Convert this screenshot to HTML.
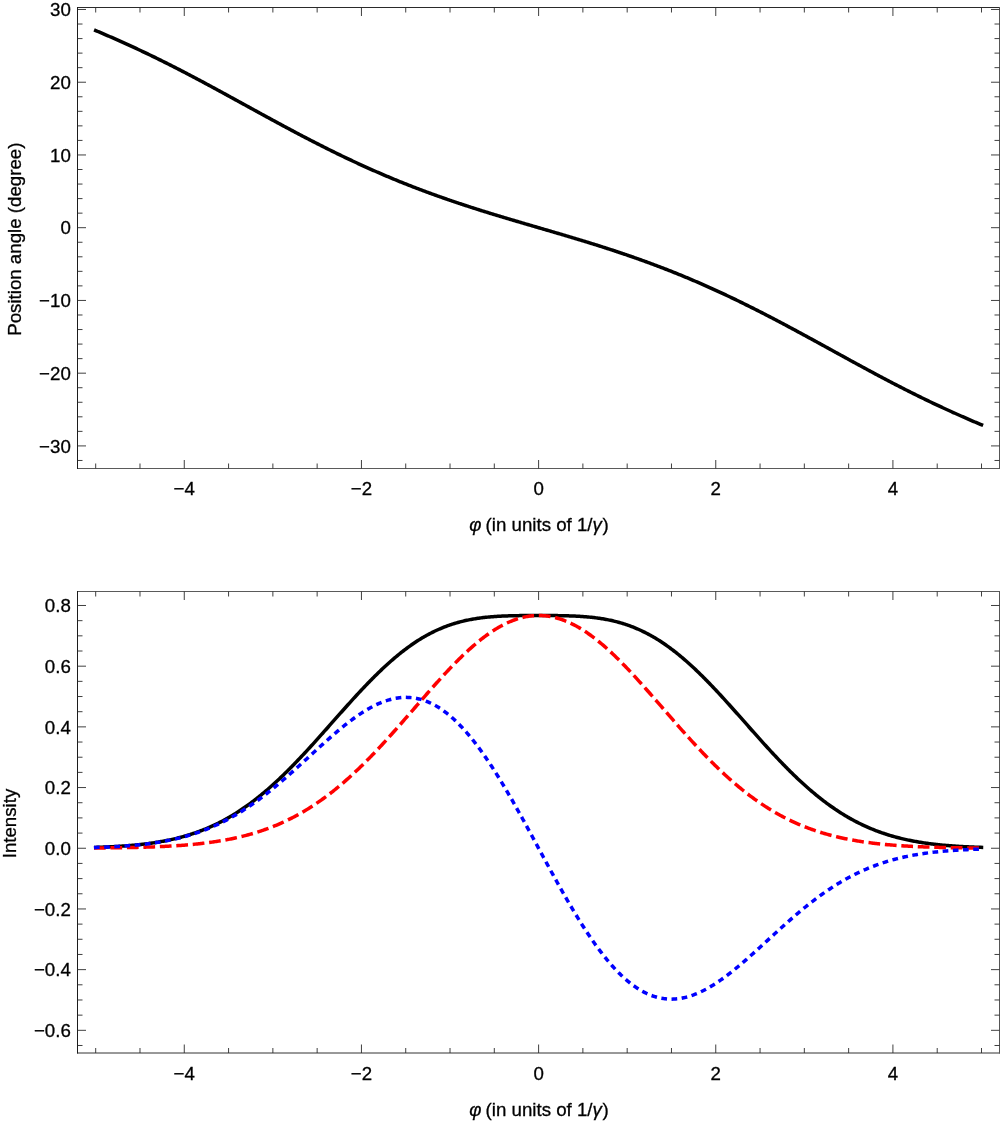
<!DOCTYPE html>
<html><head><meta charset="utf-8"><title>Polarization plots</title>
<style>
html,body{margin:0;padding:0;background:#fff;}
svg{display:block;font-family:"Liberation Sans",sans-serif;font-size:18.7px;fill:#000;}
text{stroke:#000;stroke-width:0.3px;}
</style></head><body>
<svg width="1000" height="1122" viewBox="0 0 1000 1122">
<rect width="1000" height="1122" fill="#fff"/>
<line x1="77.0" y1="7.5" x2="1000.0" y2="7.5" stroke="#2a2a2a" stroke-width="1"/>
<line x1="77.0" y1="468.5" x2="1000.0" y2="468.5" stroke="#5a5a5a" stroke-width="1"/>
<line x1="77.5" y1="7.0" x2="77.5" y2="469.0" stroke="#1c1c1c" stroke-width="1"/>
<line x1="999.5" y1="7.0" x2="999.5" y2="469.0" stroke="#555" stroke-width="1"/>
<line x1="95.70" y1="468.50" x2="95.70" y2="463.50" stroke="#2a2a2a" stroke-width="0.9"/>
<line x1="95.70" y1="7.50" x2="95.70" y2="12.50" stroke="#2a2a2a" stroke-width="0.9"/>
<line x1="139.99" y1="468.50" x2="139.99" y2="463.50" stroke="#2a2a2a" stroke-width="0.9"/>
<line x1="139.99" y1="7.50" x2="139.99" y2="12.50" stroke="#2a2a2a" stroke-width="0.9"/>
<line x1="184.28" y1="468.50" x2="184.28" y2="460.00" stroke="#2a2a2a" stroke-width="0.9"/>
<line x1="184.28" y1="7.50" x2="184.28" y2="16.00" stroke="#2a2a2a" stroke-width="0.9"/>
<text x="184.28" y="494.50" text-anchor="middle">−4</text>
<line x1="228.57" y1="468.50" x2="228.57" y2="463.50" stroke="#2a2a2a" stroke-width="0.9"/>
<line x1="228.57" y1="7.50" x2="228.57" y2="12.50" stroke="#2a2a2a" stroke-width="0.9"/>
<line x1="272.86" y1="468.50" x2="272.86" y2="463.50" stroke="#2a2a2a" stroke-width="0.9"/>
<line x1="272.86" y1="7.50" x2="272.86" y2="12.50" stroke="#2a2a2a" stroke-width="0.9"/>
<line x1="317.15" y1="468.50" x2="317.15" y2="463.50" stroke="#2a2a2a" stroke-width="0.9"/>
<line x1="317.15" y1="7.50" x2="317.15" y2="12.50" stroke="#2a2a2a" stroke-width="0.9"/>
<line x1="361.44" y1="468.50" x2="361.44" y2="460.00" stroke="#2a2a2a" stroke-width="0.9"/>
<line x1="361.44" y1="7.50" x2="361.44" y2="16.00" stroke="#2a2a2a" stroke-width="0.9"/>
<text x="361.44" y="494.50" text-anchor="middle">−2</text>
<line x1="405.73" y1="468.50" x2="405.73" y2="463.50" stroke="#2a2a2a" stroke-width="0.9"/>
<line x1="405.73" y1="7.50" x2="405.73" y2="12.50" stroke="#2a2a2a" stroke-width="0.9"/>
<line x1="450.02" y1="468.50" x2="450.02" y2="463.50" stroke="#2a2a2a" stroke-width="0.9"/>
<line x1="450.02" y1="7.50" x2="450.02" y2="12.50" stroke="#2a2a2a" stroke-width="0.9"/>
<line x1="494.31" y1="468.50" x2="494.31" y2="463.50" stroke="#2a2a2a" stroke-width="0.9"/>
<line x1="494.31" y1="7.50" x2="494.31" y2="12.50" stroke="#2a2a2a" stroke-width="0.9"/>
<line x1="538.60" y1="468.50" x2="538.60" y2="460.00" stroke="#2a2a2a" stroke-width="0.9"/>
<line x1="538.60" y1="7.50" x2="538.60" y2="16.00" stroke="#2a2a2a" stroke-width="0.9"/>
<text x="538.60" y="494.50" text-anchor="middle">0</text>
<line x1="582.89" y1="468.50" x2="582.89" y2="463.50" stroke="#2a2a2a" stroke-width="0.9"/>
<line x1="582.89" y1="7.50" x2="582.89" y2="12.50" stroke="#2a2a2a" stroke-width="0.9"/>
<line x1="627.18" y1="468.50" x2="627.18" y2="463.50" stroke="#2a2a2a" stroke-width="0.9"/>
<line x1="627.18" y1="7.50" x2="627.18" y2="12.50" stroke="#2a2a2a" stroke-width="0.9"/>
<line x1="671.47" y1="468.50" x2="671.47" y2="463.50" stroke="#2a2a2a" stroke-width="0.9"/>
<line x1="671.47" y1="7.50" x2="671.47" y2="12.50" stroke="#2a2a2a" stroke-width="0.9"/>
<line x1="715.76" y1="468.50" x2="715.76" y2="460.00" stroke="#2a2a2a" stroke-width="0.9"/>
<line x1="715.76" y1="7.50" x2="715.76" y2="16.00" stroke="#2a2a2a" stroke-width="0.9"/>
<text x="715.76" y="494.50" text-anchor="middle">2</text>
<line x1="760.05" y1="468.50" x2="760.05" y2="463.50" stroke="#2a2a2a" stroke-width="0.9"/>
<line x1="760.05" y1="7.50" x2="760.05" y2="12.50" stroke="#2a2a2a" stroke-width="0.9"/>
<line x1="804.34" y1="468.50" x2="804.34" y2="463.50" stroke="#2a2a2a" stroke-width="0.9"/>
<line x1="804.34" y1="7.50" x2="804.34" y2="12.50" stroke="#2a2a2a" stroke-width="0.9"/>
<line x1="848.63" y1="468.50" x2="848.63" y2="463.50" stroke="#2a2a2a" stroke-width="0.9"/>
<line x1="848.63" y1="7.50" x2="848.63" y2="12.50" stroke="#2a2a2a" stroke-width="0.9"/>
<line x1="892.92" y1="468.50" x2="892.92" y2="460.00" stroke="#2a2a2a" stroke-width="0.9"/>
<line x1="892.92" y1="7.50" x2="892.92" y2="16.00" stroke="#2a2a2a" stroke-width="0.9"/>
<text x="892.92" y="494.50" text-anchor="middle">4</text>
<line x1="937.21" y1="468.50" x2="937.21" y2="463.50" stroke="#2a2a2a" stroke-width="0.9"/>
<line x1="937.21" y1="7.50" x2="937.21" y2="12.50" stroke="#2a2a2a" stroke-width="0.9"/>
<line x1="981.50" y1="468.50" x2="981.50" y2="463.50" stroke="#2a2a2a" stroke-width="0.9"/>
<line x1="981.50" y1="7.50" x2="981.50" y2="12.50" stroke="#2a2a2a" stroke-width="0.9"/>
<line x1="77.50" y1="445.92" x2="86.00" y2="445.92" stroke="#2a2a2a" stroke-width="0.9"/>
<line x1="999.50" y1="445.92" x2="991.00" y2="445.92" stroke="#2a2a2a" stroke-width="0.9"/>
<line x1="77.50" y1="373.18" x2="86.00" y2="373.18" stroke="#2a2a2a" stroke-width="0.9"/>
<line x1="999.50" y1="373.18" x2="991.00" y2="373.18" stroke="#2a2a2a" stroke-width="0.9"/>
<line x1="77.50" y1="300.44" x2="86.00" y2="300.44" stroke="#2a2a2a" stroke-width="0.9"/>
<line x1="999.50" y1="300.44" x2="991.00" y2="300.44" stroke="#2a2a2a" stroke-width="0.9"/>
<line x1="77.50" y1="227.70" x2="86.00" y2="227.70" stroke="#2a2a2a" stroke-width="0.9"/>
<line x1="999.50" y1="227.70" x2="991.00" y2="227.70" stroke="#2a2a2a" stroke-width="0.9"/>
<line x1="77.50" y1="154.96" x2="86.00" y2="154.96" stroke="#2a2a2a" stroke-width="0.9"/>
<line x1="999.50" y1="154.96" x2="991.00" y2="154.96" stroke="#2a2a2a" stroke-width="0.9"/>
<line x1="77.50" y1="82.22" x2="86.00" y2="82.22" stroke="#2a2a2a" stroke-width="0.9"/>
<line x1="999.50" y1="82.22" x2="991.00" y2="82.22" stroke="#2a2a2a" stroke-width="0.9"/>
<line x1="77.50" y1="9.48" x2="86.00" y2="9.48" stroke="#2a2a2a" stroke-width="0.9"/>
<line x1="999.50" y1="9.48" x2="991.00" y2="9.48" stroke="#2a2a2a" stroke-width="0.9"/>
<line x1="77.50" y1="460.47" x2="82.50" y2="460.47" stroke="#2a2a2a" stroke-width="0.9"/>
<line x1="999.50" y1="460.47" x2="994.50" y2="460.47" stroke="#2a2a2a" stroke-width="0.9"/>
<line x1="77.50" y1="431.37" x2="82.50" y2="431.37" stroke="#2a2a2a" stroke-width="0.9"/>
<line x1="999.50" y1="431.37" x2="994.50" y2="431.37" stroke="#2a2a2a" stroke-width="0.9"/>
<line x1="77.50" y1="416.82" x2="82.50" y2="416.82" stroke="#2a2a2a" stroke-width="0.9"/>
<line x1="999.50" y1="416.82" x2="994.50" y2="416.82" stroke="#2a2a2a" stroke-width="0.9"/>
<line x1="77.50" y1="402.28" x2="82.50" y2="402.28" stroke="#2a2a2a" stroke-width="0.9"/>
<line x1="999.50" y1="402.28" x2="994.50" y2="402.28" stroke="#2a2a2a" stroke-width="0.9"/>
<line x1="77.50" y1="387.73" x2="82.50" y2="387.73" stroke="#2a2a2a" stroke-width="0.9"/>
<line x1="999.50" y1="387.73" x2="994.50" y2="387.73" stroke="#2a2a2a" stroke-width="0.9"/>
<line x1="77.50" y1="358.63" x2="82.50" y2="358.63" stroke="#2a2a2a" stroke-width="0.9"/>
<line x1="999.50" y1="358.63" x2="994.50" y2="358.63" stroke="#2a2a2a" stroke-width="0.9"/>
<line x1="77.50" y1="344.08" x2="82.50" y2="344.08" stroke="#2a2a2a" stroke-width="0.9"/>
<line x1="999.50" y1="344.08" x2="994.50" y2="344.08" stroke="#2a2a2a" stroke-width="0.9"/>
<line x1="77.50" y1="329.54" x2="82.50" y2="329.54" stroke="#2a2a2a" stroke-width="0.9"/>
<line x1="999.50" y1="329.54" x2="994.50" y2="329.54" stroke="#2a2a2a" stroke-width="0.9"/>
<line x1="77.50" y1="314.99" x2="82.50" y2="314.99" stroke="#2a2a2a" stroke-width="0.9"/>
<line x1="999.50" y1="314.99" x2="994.50" y2="314.99" stroke="#2a2a2a" stroke-width="0.9"/>
<line x1="77.50" y1="285.89" x2="82.50" y2="285.89" stroke="#2a2a2a" stroke-width="0.9"/>
<line x1="999.50" y1="285.89" x2="994.50" y2="285.89" stroke="#2a2a2a" stroke-width="0.9"/>
<line x1="77.50" y1="271.34" x2="82.50" y2="271.34" stroke="#2a2a2a" stroke-width="0.9"/>
<line x1="999.50" y1="271.34" x2="994.50" y2="271.34" stroke="#2a2a2a" stroke-width="0.9"/>
<line x1="77.50" y1="256.80" x2="82.50" y2="256.80" stroke="#2a2a2a" stroke-width="0.9"/>
<line x1="999.50" y1="256.80" x2="994.50" y2="256.80" stroke="#2a2a2a" stroke-width="0.9"/>
<line x1="77.50" y1="242.25" x2="82.50" y2="242.25" stroke="#2a2a2a" stroke-width="0.9"/>
<line x1="999.50" y1="242.25" x2="994.50" y2="242.25" stroke="#2a2a2a" stroke-width="0.9"/>
<line x1="77.50" y1="213.15" x2="82.50" y2="213.15" stroke="#2a2a2a" stroke-width="0.9"/>
<line x1="999.50" y1="213.15" x2="994.50" y2="213.15" stroke="#2a2a2a" stroke-width="0.9"/>
<line x1="77.50" y1="198.60" x2="82.50" y2="198.60" stroke="#2a2a2a" stroke-width="0.9"/>
<line x1="999.50" y1="198.60" x2="994.50" y2="198.60" stroke="#2a2a2a" stroke-width="0.9"/>
<line x1="77.50" y1="184.06" x2="82.50" y2="184.06" stroke="#2a2a2a" stroke-width="0.9"/>
<line x1="999.50" y1="184.06" x2="994.50" y2="184.06" stroke="#2a2a2a" stroke-width="0.9"/>
<line x1="77.50" y1="169.51" x2="82.50" y2="169.51" stroke="#2a2a2a" stroke-width="0.9"/>
<line x1="999.50" y1="169.51" x2="994.50" y2="169.51" stroke="#2a2a2a" stroke-width="0.9"/>
<line x1="77.50" y1="140.41" x2="82.50" y2="140.41" stroke="#2a2a2a" stroke-width="0.9"/>
<line x1="999.50" y1="140.41" x2="994.50" y2="140.41" stroke="#2a2a2a" stroke-width="0.9"/>
<line x1="77.50" y1="125.86" x2="82.50" y2="125.86" stroke="#2a2a2a" stroke-width="0.9"/>
<line x1="999.50" y1="125.86" x2="994.50" y2="125.86" stroke="#2a2a2a" stroke-width="0.9"/>
<line x1="77.50" y1="111.32" x2="82.50" y2="111.32" stroke="#2a2a2a" stroke-width="0.9"/>
<line x1="999.50" y1="111.32" x2="994.50" y2="111.32" stroke="#2a2a2a" stroke-width="0.9"/>
<line x1="77.50" y1="96.77" x2="82.50" y2="96.77" stroke="#2a2a2a" stroke-width="0.9"/>
<line x1="999.50" y1="96.77" x2="994.50" y2="96.77" stroke="#2a2a2a" stroke-width="0.9"/>
<line x1="77.50" y1="67.67" x2="82.50" y2="67.67" stroke="#2a2a2a" stroke-width="0.9"/>
<line x1="999.50" y1="67.67" x2="994.50" y2="67.67" stroke="#2a2a2a" stroke-width="0.9"/>
<line x1="77.50" y1="53.12" x2="82.50" y2="53.12" stroke="#2a2a2a" stroke-width="0.9"/>
<line x1="999.50" y1="53.12" x2="994.50" y2="53.12" stroke="#2a2a2a" stroke-width="0.9"/>
<line x1="77.50" y1="38.58" x2="82.50" y2="38.58" stroke="#2a2a2a" stroke-width="0.9"/>
<line x1="999.50" y1="38.58" x2="994.50" y2="38.58" stroke="#2a2a2a" stroke-width="0.9"/>
<line x1="77.50" y1="24.03" x2="82.50" y2="24.03" stroke="#2a2a2a" stroke-width="0.9"/>
<line x1="999.50" y1="24.03" x2="994.50" y2="24.03" stroke="#2a2a2a" stroke-width="0.9"/>
<text x="70.8" y="452.62" text-anchor="end">−30</text>
<text x="70.8" y="379.88" text-anchor="end">−20</text>
<text x="70.8" y="307.14" text-anchor="end">−10</text>
<text x="70.8" y="234.40" text-anchor="end">0</text>
<text x="70.8" y="161.66" text-anchor="end">10</text>
<text x="70.8" y="88.92" text-anchor="end">20</text>
<text x="70.8" y="16.18" text-anchor="end">30</text>
<path d="M95.70,30.58 L96.81,31.04 L97.91,31.51 L99.02,31.98 L100.13,32.45 L101.24,32.93 L102.34,33.40 L103.45,33.87 L104.56,34.35 L105.67,34.83 L106.77,35.30 L107.88,35.78 L108.99,36.26 L110.09,36.75 L111.20,37.23 L112.31,37.71 L113.42,38.20 L114.52,38.68 L115.63,39.17 L116.74,39.66 L117.85,40.15 L118.95,40.64 L120.06,41.14 L121.17,41.63 L122.27,42.13 L123.38,42.62 L124.49,43.12 L125.60,43.62 L126.70,44.12 L127.81,44.63 L128.92,45.13 L130.02,45.64 L131.13,46.14 L132.24,46.65 L133.35,47.16 L134.45,47.68 L135.56,48.19 L136.67,48.70 L137.78,49.22 L138.88,49.74 L139.99,50.26 L141.10,50.78 L142.20,51.30 L143.31,51.83 L144.42,52.35 L145.53,52.88 L146.63,53.41 L147.74,53.94 L148.85,54.47 L149.96,55.00 L151.06,55.54 L152.17,56.07 L153.28,56.61 L154.38,57.15 L155.49,57.69 L156.60,58.23 L157.71,58.77 L158.81,59.32 L159.92,59.86 L161.03,60.41 L162.14,60.96 L163.24,61.51 L164.35,62.06 L165.46,62.62 L166.56,63.17 L167.67,63.73 L168.78,64.28 L169.89,64.84 L170.99,65.40 L172.10,65.96 L173.21,66.53 L174.31,67.09 L175.42,67.65 L176.53,68.22 L177.64,68.79 L178.74,69.36 L179.85,69.93 L180.96,70.50 L182.07,71.07 L183.17,71.65 L184.28,72.22 L185.39,72.80 L186.49,73.37 L187.60,73.95 L188.71,74.53 L189.82,75.11 L190.92,75.69 L192.03,76.28 L193.14,76.86 L194.25,77.44 L195.35,78.03 L196.46,78.62 L197.57,79.20 L198.67,79.79 L199.78,80.38 L200.89,80.97 L202.00,81.56 L203.10,82.15 L204.21,82.75 L205.32,83.34 L206.43,83.93 L207.53,84.53 L208.64,85.13 L209.75,85.72 L210.85,86.32 L211.96,86.92 L213.07,87.52 L214.18,88.12 L215.28,88.71 L216.39,89.32 L217.50,89.92 L218.60,90.52 L219.71,91.12 L220.82,91.72 L221.93,92.33 L223.03,92.93 L224.14,93.53 L225.25,94.14 L226.36,94.74 L227.46,95.35 L228.57,95.95 L229.68,96.56 L230.78,97.17 L231.89,97.77 L233.00,98.38 L234.11,98.99 L235.21,99.59 L236.32,100.20 L237.43,100.81 L238.54,101.42 L239.64,102.02 L240.75,102.63 L241.86,103.24 L242.96,103.85 L244.07,104.46 L245.18,105.06 L246.29,105.67 L247.39,106.28 L248.50,106.89 L249.61,107.50 L250.72,108.11 L251.82,108.71 L252.93,109.32 L254.04,109.93 L255.14,110.54 L256.25,111.14 L257.36,111.75 L258.47,112.36 L259.57,112.96 L260.68,113.57 L261.79,114.17 L262.89,114.78 L264.00,115.39 L265.11,115.99 L266.22,116.59 L267.32,117.20 L268.43,117.80 L269.54,118.40 L270.65,119.01 L271.75,119.61 L272.86,120.21 L273.97,120.81 L275.07,121.41 L276.18,122.01 L277.29,122.61 L278.40,123.21 L279.50,123.81 L280.61,124.40 L281.72,125.00 L282.83,125.60 L283.93,126.19 L285.04,126.79 L286.15,127.38 L287.25,127.97 L288.36,128.56 L289.47,129.16 L290.58,129.75 L291.68,130.34 L292.79,130.92 L293.90,131.51 L295.00,132.10 L296.11,132.68 L297.22,133.27 L298.33,133.85 L299.43,134.44 L300.54,135.02 L301.65,135.60 L302.76,136.18 L303.86,136.76 L304.97,137.34 L306.08,137.91 L307.18,138.49 L308.29,139.06 L309.40,139.64 L310.51,140.21 L311.61,140.78 L312.72,141.35 L313.83,141.92 L314.94,142.48 L316.04,143.05 L317.15,143.62 L318.26,144.18 L319.36,144.74 L320.47,145.30 L321.58,145.86 L322.69,146.42 L323.79,146.98 L324.90,147.54 L326.01,148.09 L327.12,148.64 L328.22,149.20 L329.33,149.75 L330.44,150.30 L331.54,150.84 L332.65,151.39 L333.76,151.93 L334.87,152.48 L335.97,153.02 L337.08,153.56 L338.19,154.10 L339.30,154.64 L340.40,155.17 L341.51,155.71 L342.62,156.24 L343.72,156.77 L344.83,157.30 L345.94,157.83 L347.05,158.36 L348.15,158.89 L349.26,159.41 L350.37,159.93 L351.47,160.45 L352.58,160.97 L353.69,161.49 L354.80,162.01 L355.90,162.52 L357.01,163.03 L358.12,163.55 L359.23,164.06 L360.33,164.56 L361.44,165.07 L362.55,165.58 L363.65,166.08 L364.76,166.58 L365.87,167.08 L366.98,167.58 L368.08,168.08 L369.19,168.57 L370.30,169.06 L371.41,169.56 L372.51,170.05 L373.62,170.53 L374.73,171.02 L375.83,171.51 L376.94,171.99 L378.05,172.47 L379.16,172.95 L380.26,173.43 L381.37,173.91 L382.48,174.38 L383.59,174.86 L384.69,175.33 L385.80,175.80 L386.91,176.27 L388.01,176.73 L389.12,177.20 L390.23,177.66 L391.34,178.12 L392.44,178.58 L393.55,179.04 L394.66,179.50 L395.76,179.95 L396.87,180.41 L397.98,180.86 L399.09,181.31 L400.19,181.76 L401.30,182.20 L402.41,182.65 L403.52,183.09 L404.62,183.53 L405.73,183.97 L406.84,184.41 L407.94,184.85 L409.05,185.28 L410.16,185.72 L411.27,186.15 L412.37,186.58 L413.48,187.01 L414.59,187.44 L415.70,187.86 L416.80,188.28 L417.91,188.71 L419.02,189.13 L420.12,189.55 L421.23,189.97 L422.34,190.38 L423.45,190.80 L424.55,191.21 L425.66,191.62 L426.77,192.03 L427.88,192.44 L428.98,192.85 L430.09,193.25 L431.20,193.65 L432.30,194.06 L433.41,194.46 L434.52,194.86 L435.63,195.26 L436.73,195.65 L437.84,196.05 L438.95,196.44 L440.05,196.83 L441.16,197.22 L442.27,197.61 L443.38,198.00 L444.48,198.39 L445.59,198.77 L446.70,199.16 L447.81,199.54 L448.91,199.92 L450.02,200.30 L451.13,200.68 L452.23,201.06 L453.34,201.43 L454.45,201.81 L455.56,202.18 L456.66,202.55 L457.77,202.93 L458.88,203.30 L459.99,203.66 L461.09,204.03 L462.20,204.40 L463.31,204.76 L464.41,205.13 L465.52,205.49 L466.63,205.85 L467.74,206.21 L468.84,206.57 L469.95,206.93 L471.06,207.29 L472.17,207.64 L473.27,208.00 L474.38,208.35 L475.49,208.71 L476.59,209.06 L477.70,209.41 L478.81,209.76 L479.92,210.11 L481.02,210.46 L482.13,210.80 L483.24,211.15 L484.34,211.50 L485.45,211.84 L486.56,212.19 L487.67,212.53 L488.77,212.87 L489.88,213.21 L490.99,213.55 L492.10,213.89 L493.20,214.23 L494.31,214.57 L495.42,214.91 L496.52,215.25 L497.63,215.58 L498.74,215.92 L499.85,216.25 L500.95,216.59 L502.06,216.92 L503.17,217.25 L504.28,217.59 L505.38,217.92 L506.49,218.25 L507.60,218.58 L508.70,218.91 L509.81,219.24 L510.92,219.57 L512.03,219.90 L513.13,220.23 L514.24,220.55 L515.35,220.88 L516.46,221.21 L517.56,221.54 L518.67,221.86 L519.78,222.19 L520.88,222.51 L521.99,222.84 L523.10,223.17 L524.21,223.49 L525.31,223.81 L526.42,224.14 L527.53,224.46 L528.63,224.79 L529.74,225.11 L530.85,225.44 L531.96,225.76 L533.06,226.08 L534.17,226.41 L535.28,226.73 L536.39,227.05 L537.49,227.38 L538.60,227.70 L539.71,228.02 L540.81,228.35 L541.92,228.67 L543.03,228.99 L544.14,229.32 L545.24,229.64 L546.35,229.96 L547.46,230.29 L548.57,230.61 L549.67,230.94 L550.78,231.26 L551.89,231.59 L552.99,231.91 L554.10,232.23 L555.21,232.56 L556.32,232.89 L557.42,233.21 L558.53,233.54 L559.64,233.86 L560.75,234.19 L561.85,234.52 L562.96,234.85 L564.07,235.17 L565.17,235.50 L566.28,235.83 L567.39,236.16 L568.50,236.49 L569.60,236.82 L570.71,237.15 L571.82,237.48 L572.92,237.81 L574.03,238.15 L575.14,238.48 L576.25,238.81 L577.35,239.15 L578.46,239.48 L579.57,239.82 L580.68,240.15 L581.78,240.49 L582.89,240.83 L584.00,241.17 L585.10,241.51 L586.21,241.85 L587.32,242.19 L588.43,242.53 L589.53,242.87 L590.64,243.21 L591.75,243.56 L592.86,243.90 L593.96,244.25 L595.07,244.60 L596.18,244.94 L597.28,245.29 L598.39,245.64 L599.50,245.99 L600.61,246.34 L601.71,246.69 L602.82,247.05 L603.93,247.40 L605.04,247.76 L606.14,248.11 L607.25,248.47 L608.36,248.83 L609.46,249.19 L610.57,249.55 L611.68,249.91 L612.79,250.27 L613.89,250.64 L615.00,251.00 L616.11,251.37 L617.21,251.74 L618.32,252.10 L619.43,252.47 L620.54,252.85 L621.64,253.22 L622.75,253.59 L623.86,253.97 L624.97,254.34 L626.07,254.72 L627.18,255.10 L628.29,255.48 L629.39,255.86 L630.50,256.24 L631.61,256.63 L632.72,257.01 L633.82,257.40 L634.93,257.79 L636.04,258.18 L637.15,258.57 L638.25,258.96 L639.36,259.35 L640.47,259.75 L641.57,260.14 L642.68,260.54 L643.79,260.94 L644.90,261.34 L646.00,261.75 L647.11,262.15 L648.22,262.55 L649.33,262.96 L650.43,263.37 L651.54,263.78 L652.65,264.19 L653.75,264.60 L654.86,265.02 L655.97,265.43 L657.08,265.85 L658.18,266.27 L659.29,266.69 L660.40,267.12 L661.50,267.54 L662.61,267.96 L663.72,268.39 L664.83,268.82 L665.93,269.25 L667.04,269.68 L668.15,270.12 L669.26,270.55 L670.36,270.99 L671.47,271.43 L672.58,271.87 L673.68,272.31 L674.79,272.75 L675.90,273.20 L677.01,273.64 L678.11,274.09 L679.22,274.54 L680.33,274.99 L681.44,275.45 L682.54,275.90 L683.65,276.36 L684.76,276.82 L685.86,277.28 L686.97,277.74 L688.08,278.20 L689.19,278.67 L690.29,279.13 L691.40,279.60 L692.51,280.07 L693.62,280.54 L694.72,281.02 L695.83,281.49 L696.94,281.97 L698.04,282.45 L699.15,282.93 L700.26,283.41 L701.37,283.89 L702.47,284.38 L703.58,284.87 L704.69,285.35 L705.79,285.84 L706.90,286.34 L708.01,286.83 L709.12,287.32 L710.22,287.82 L711.33,288.32 L712.44,288.82 L713.55,289.32 L714.65,289.82 L715.76,290.33 L716.87,290.84 L717.97,291.34 L719.08,291.85 L720.19,292.37 L721.30,292.88 L722.40,293.39 L723.51,293.91 L724.62,294.43 L725.73,294.95 L726.83,295.47 L727.94,295.99 L729.05,296.51 L730.15,297.04 L731.26,297.57 L732.37,298.10 L733.48,298.63 L734.58,299.16 L735.69,299.69 L736.80,300.23 L737.90,300.76 L739.01,301.30 L740.12,301.84 L741.23,302.38 L742.33,302.92 L743.44,303.47 L744.55,304.01 L745.66,304.56 L746.76,305.10 L747.87,305.65 L748.98,306.20 L750.08,306.76 L751.19,307.31 L752.30,307.86 L753.41,308.42 L754.51,308.98 L755.62,309.54 L756.73,310.10 L757.84,310.66 L758.94,311.22 L760.05,311.78 L761.16,312.35 L762.26,312.92 L763.37,313.48 L764.48,314.05 L765.59,314.62 L766.69,315.19 L767.80,315.76 L768.91,316.34 L770.02,316.91 L771.12,317.49 L772.23,318.06 L773.34,318.64 L774.44,319.22 L775.55,319.80 L776.66,320.38 L777.77,320.96 L778.87,321.55 L779.98,322.13 L781.09,322.72 L782.20,323.30 L783.30,323.89 L784.41,324.48 L785.52,325.06 L786.62,325.65 L787.73,326.24 L788.84,326.84 L789.95,327.43 L791.05,328.02 L792.16,328.61 L793.27,329.21 L794.37,329.80 L795.48,330.40 L796.59,331.00 L797.70,331.59 L798.80,332.19 L799.91,332.79 L801.02,333.39 L802.13,333.99 L803.23,334.59 L804.34,335.19 L805.45,335.79 L806.55,336.39 L807.66,337.00 L808.77,337.60 L809.88,338.20 L810.98,338.81 L812.09,339.41 L813.20,340.01 L814.31,340.62 L815.41,341.23 L816.52,341.83 L817.63,342.44 L818.73,343.04 L819.84,343.65 L820.95,344.26 L822.06,344.86 L823.16,345.47 L824.27,346.08 L825.38,346.69 L826.49,347.29 L827.59,347.90 L828.70,348.51 L829.81,349.12 L830.91,349.73 L832.02,350.34 L833.13,350.94 L834.24,351.55 L835.34,352.16 L836.45,352.77 L837.56,353.38 L838.66,353.98 L839.77,354.59 L840.88,355.20 L841.99,355.81 L843.09,356.41 L844.20,357.02 L845.31,357.63 L846.42,358.23 L847.52,358.84 L848.63,359.45 L849.74,360.05 L850.84,360.66 L851.95,361.26 L853.06,361.87 L854.17,362.47 L855.27,363.07 L856.38,363.68 L857.49,364.28 L858.60,364.88 L859.70,365.48 L860.81,366.08 L861.92,366.69 L863.02,367.28 L864.13,367.88 L865.24,368.48 L866.35,369.08 L867.45,369.68 L868.56,370.27 L869.67,370.87 L870.78,371.47 L871.88,372.06 L872.99,372.65 L874.10,373.25 L875.20,373.84 L876.31,374.43 L877.42,375.02 L878.53,375.61 L879.63,376.20 L880.74,376.78 L881.85,377.37 L882.95,377.96 L884.06,378.54 L885.17,379.12 L886.28,379.71 L887.38,380.29 L888.49,380.87 L889.60,381.45 L890.71,382.03 L891.81,382.60 L892.92,383.18 L894.03,383.75 L895.13,384.33 L896.24,384.90 L897.35,385.47 L898.46,386.04 L899.56,386.61 L900.67,387.18 L901.78,387.75 L902.89,388.31 L903.99,388.87 L905.10,389.44 L906.21,390.00 L907.31,390.56 L908.42,391.12 L909.53,391.67 L910.64,392.23 L911.74,392.78 L912.85,393.34 L913.96,393.89 L915.07,394.44 L916.17,394.99 L917.28,395.54 L918.39,396.08 L919.49,396.63 L920.60,397.17 L921.71,397.71 L922.82,398.25 L923.92,398.79 L925.03,399.33 L926.14,399.86 L927.24,400.40 L928.35,400.93 L929.46,401.46 L930.57,401.99 L931.67,402.52 L932.78,403.05 L933.89,403.57 L935.00,404.10 L936.10,404.62 L937.21,405.14 L938.32,405.66 L939.42,406.18 L940.53,406.70 L941.64,407.21 L942.75,407.72 L943.85,408.24 L944.96,408.75 L946.07,409.26 L947.18,409.76 L948.28,410.27 L949.39,410.77 L950.50,411.28 L951.60,411.78 L952.71,412.28 L953.82,412.78 L954.93,413.27 L956.03,413.77 L957.14,414.26 L958.25,414.76 L959.36,415.25 L960.46,415.74 L961.57,416.23 L962.68,416.72 L963.78,417.20 L964.89,417.69 L966.00,418.17 L967.11,418.65 L968.21,419.14 L969.32,419.62 L970.43,420.10 L971.53,420.57 L972.64,421.05 L973.75,421.53 L974.86,422.00 L975.96,422.47 L977.07,422.95 L978.18,423.42 L979.29,423.89 L980.39,424.36 L981.50,424.82" fill="none" stroke="#000" stroke-width="3.5" stroke-linecap="square" stroke-linejoin="round"/>
<text transform="translate(20.5,239.2) rotate(-90)" text-anchor="middle">Position angle (degree)</text>
<text x="539.00" y="531.0" text-anchor="middle"><tspan font-style="italic">φ</tspan><tspan dx="-1.2"> (in units of 1/</tspan><tspan font-style="italic">γ</tspan><tspan dx="0.5">)</tspan></text>
<line x1="77.0" y1="591.5" x2="1000.0" y2="591.5" stroke="#5a5a5a" stroke-width="1"/>
<line x1="77.0" y1="1053.0" x2="1000.0" y2="1053.0" stroke="#333" stroke-width="1"/>
<line x1="77.5" y1="591.0" x2="77.5" y2="1053.5" stroke="#1c1c1c" stroke-width="1"/>
<line x1="999.5" y1="591.0" x2="999.5" y2="1053.5" stroke="#555" stroke-width="1"/>
<line x1="95.70" y1="1053.00" x2="95.70" y2="1048.00" stroke="#2a2a2a" stroke-width="0.9"/>
<line x1="95.70" y1="591.50" x2="95.70" y2="596.50" stroke="#2a2a2a" stroke-width="0.9"/>
<line x1="139.99" y1="1053.00" x2="139.99" y2="1048.00" stroke="#2a2a2a" stroke-width="0.9"/>
<line x1="139.99" y1="591.50" x2="139.99" y2="596.50" stroke="#2a2a2a" stroke-width="0.9"/>
<line x1="184.28" y1="1053.00" x2="184.28" y2="1044.50" stroke="#2a2a2a" stroke-width="0.9"/>
<line x1="184.28" y1="591.50" x2="184.28" y2="600.00" stroke="#2a2a2a" stroke-width="0.9"/>
<text x="184.28" y="1079.50" text-anchor="middle">−4</text>
<line x1="228.57" y1="1053.00" x2="228.57" y2="1048.00" stroke="#2a2a2a" stroke-width="0.9"/>
<line x1="228.57" y1="591.50" x2="228.57" y2="596.50" stroke="#2a2a2a" stroke-width="0.9"/>
<line x1="272.86" y1="1053.00" x2="272.86" y2="1048.00" stroke="#2a2a2a" stroke-width="0.9"/>
<line x1="272.86" y1="591.50" x2="272.86" y2="596.50" stroke="#2a2a2a" stroke-width="0.9"/>
<line x1="317.15" y1="1053.00" x2="317.15" y2="1048.00" stroke="#2a2a2a" stroke-width="0.9"/>
<line x1="317.15" y1="591.50" x2="317.15" y2="596.50" stroke="#2a2a2a" stroke-width="0.9"/>
<line x1="361.44" y1="1053.00" x2="361.44" y2="1044.50" stroke="#2a2a2a" stroke-width="0.9"/>
<line x1="361.44" y1="591.50" x2="361.44" y2="600.00" stroke="#2a2a2a" stroke-width="0.9"/>
<text x="361.44" y="1079.50" text-anchor="middle">−2</text>
<line x1="405.73" y1="1053.00" x2="405.73" y2="1048.00" stroke="#2a2a2a" stroke-width="0.9"/>
<line x1="405.73" y1="591.50" x2="405.73" y2="596.50" stroke="#2a2a2a" stroke-width="0.9"/>
<line x1="450.02" y1="1053.00" x2="450.02" y2="1048.00" stroke="#2a2a2a" stroke-width="0.9"/>
<line x1="450.02" y1="591.50" x2="450.02" y2="596.50" stroke="#2a2a2a" stroke-width="0.9"/>
<line x1="494.31" y1="1053.00" x2="494.31" y2="1048.00" stroke="#2a2a2a" stroke-width="0.9"/>
<line x1="494.31" y1="591.50" x2="494.31" y2="596.50" stroke="#2a2a2a" stroke-width="0.9"/>
<line x1="538.60" y1="1053.00" x2="538.60" y2="1044.50" stroke="#2a2a2a" stroke-width="0.9"/>
<line x1="538.60" y1="591.50" x2="538.60" y2="600.00" stroke="#2a2a2a" stroke-width="0.9"/>
<text x="538.60" y="1079.50" text-anchor="middle">0</text>
<line x1="582.89" y1="1053.00" x2="582.89" y2="1048.00" stroke="#2a2a2a" stroke-width="0.9"/>
<line x1="582.89" y1="591.50" x2="582.89" y2="596.50" stroke="#2a2a2a" stroke-width="0.9"/>
<line x1="627.18" y1="1053.00" x2="627.18" y2="1048.00" stroke="#2a2a2a" stroke-width="0.9"/>
<line x1="627.18" y1="591.50" x2="627.18" y2="596.50" stroke="#2a2a2a" stroke-width="0.9"/>
<line x1="671.47" y1="1053.00" x2="671.47" y2="1048.00" stroke="#2a2a2a" stroke-width="0.9"/>
<line x1="671.47" y1="591.50" x2="671.47" y2="596.50" stroke="#2a2a2a" stroke-width="0.9"/>
<line x1="715.76" y1="1053.00" x2="715.76" y2="1044.50" stroke="#2a2a2a" stroke-width="0.9"/>
<line x1="715.76" y1="591.50" x2="715.76" y2="600.00" stroke="#2a2a2a" stroke-width="0.9"/>
<text x="715.76" y="1079.50" text-anchor="middle">2</text>
<line x1="760.05" y1="1053.00" x2="760.05" y2="1048.00" stroke="#2a2a2a" stroke-width="0.9"/>
<line x1="760.05" y1="591.50" x2="760.05" y2="596.50" stroke="#2a2a2a" stroke-width="0.9"/>
<line x1="804.34" y1="1053.00" x2="804.34" y2="1048.00" stroke="#2a2a2a" stroke-width="0.9"/>
<line x1="804.34" y1="591.50" x2="804.34" y2="596.50" stroke="#2a2a2a" stroke-width="0.9"/>
<line x1="848.63" y1="1053.00" x2="848.63" y2="1048.00" stroke="#2a2a2a" stroke-width="0.9"/>
<line x1="848.63" y1="591.50" x2="848.63" y2="596.50" stroke="#2a2a2a" stroke-width="0.9"/>
<line x1="892.92" y1="1053.00" x2="892.92" y2="1044.50" stroke="#2a2a2a" stroke-width="0.9"/>
<line x1="892.92" y1="591.50" x2="892.92" y2="600.00" stroke="#2a2a2a" stroke-width="0.9"/>
<text x="892.92" y="1079.50" text-anchor="middle">4</text>
<line x1="937.21" y1="1053.00" x2="937.21" y2="1048.00" stroke="#2a2a2a" stroke-width="0.9"/>
<line x1="937.21" y1="591.50" x2="937.21" y2="596.50" stroke="#2a2a2a" stroke-width="0.9"/>
<line x1="981.50" y1="1053.00" x2="981.50" y2="1048.00" stroke="#2a2a2a" stroke-width="0.9"/>
<line x1="981.50" y1="591.50" x2="981.50" y2="596.50" stroke="#2a2a2a" stroke-width="0.9"/>
<line x1="77.50" y1="1030.32" x2="86.00" y2="1030.32" stroke="#2a2a2a" stroke-width="0.9"/>
<line x1="999.50" y1="1030.32" x2="991.00" y2="1030.32" stroke="#2a2a2a" stroke-width="0.9"/>
<line x1="77.50" y1="969.63" x2="86.00" y2="969.63" stroke="#2a2a2a" stroke-width="0.9"/>
<line x1="999.50" y1="969.63" x2="991.00" y2="969.63" stroke="#2a2a2a" stroke-width="0.9"/>
<line x1="77.50" y1="908.94" x2="86.00" y2="908.94" stroke="#2a2a2a" stroke-width="0.9"/>
<line x1="999.50" y1="908.94" x2="991.00" y2="908.94" stroke="#2a2a2a" stroke-width="0.9"/>
<line x1="77.50" y1="848.25" x2="86.00" y2="848.25" stroke="#2a2a2a" stroke-width="0.9"/>
<line x1="999.50" y1="848.25" x2="991.00" y2="848.25" stroke="#2a2a2a" stroke-width="0.9"/>
<line x1="77.50" y1="787.56" x2="86.00" y2="787.56" stroke="#2a2a2a" stroke-width="0.9"/>
<line x1="999.50" y1="787.56" x2="991.00" y2="787.56" stroke="#2a2a2a" stroke-width="0.9"/>
<line x1="77.50" y1="726.87" x2="86.00" y2="726.87" stroke="#2a2a2a" stroke-width="0.9"/>
<line x1="999.50" y1="726.87" x2="991.00" y2="726.87" stroke="#2a2a2a" stroke-width="0.9"/>
<line x1="77.50" y1="666.18" x2="86.00" y2="666.18" stroke="#2a2a2a" stroke-width="0.9"/>
<line x1="999.50" y1="666.18" x2="991.00" y2="666.18" stroke="#2a2a2a" stroke-width="0.9"/>
<line x1="77.50" y1="605.49" x2="86.00" y2="605.49" stroke="#2a2a2a" stroke-width="0.9"/>
<line x1="999.50" y1="605.49" x2="991.00" y2="605.49" stroke="#2a2a2a" stroke-width="0.9"/>
<line x1="77.50" y1="1045.49" x2="82.50" y2="1045.49" stroke="#2a2a2a" stroke-width="0.9"/>
<line x1="999.50" y1="1045.49" x2="994.50" y2="1045.49" stroke="#2a2a2a" stroke-width="0.9"/>
<line x1="77.50" y1="1015.15" x2="82.50" y2="1015.15" stroke="#2a2a2a" stroke-width="0.9"/>
<line x1="999.50" y1="1015.15" x2="994.50" y2="1015.15" stroke="#2a2a2a" stroke-width="0.9"/>
<line x1="77.50" y1="999.98" x2="82.50" y2="999.98" stroke="#2a2a2a" stroke-width="0.9"/>
<line x1="999.50" y1="999.98" x2="994.50" y2="999.98" stroke="#2a2a2a" stroke-width="0.9"/>
<line x1="77.50" y1="984.80" x2="82.50" y2="984.80" stroke="#2a2a2a" stroke-width="0.9"/>
<line x1="999.50" y1="984.80" x2="994.50" y2="984.80" stroke="#2a2a2a" stroke-width="0.9"/>
<line x1="77.50" y1="954.46" x2="82.50" y2="954.46" stroke="#2a2a2a" stroke-width="0.9"/>
<line x1="999.50" y1="954.46" x2="994.50" y2="954.46" stroke="#2a2a2a" stroke-width="0.9"/>
<line x1="77.50" y1="939.28" x2="82.50" y2="939.28" stroke="#2a2a2a" stroke-width="0.9"/>
<line x1="999.50" y1="939.28" x2="994.50" y2="939.28" stroke="#2a2a2a" stroke-width="0.9"/>
<line x1="77.50" y1="924.11" x2="82.50" y2="924.11" stroke="#2a2a2a" stroke-width="0.9"/>
<line x1="999.50" y1="924.11" x2="994.50" y2="924.11" stroke="#2a2a2a" stroke-width="0.9"/>
<line x1="77.50" y1="893.77" x2="82.50" y2="893.77" stroke="#2a2a2a" stroke-width="0.9"/>
<line x1="999.50" y1="893.77" x2="994.50" y2="893.77" stroke="#2a2a2a" stroke-width="0.9"/>
<line x1="77.50" y1="878.60" x2="82.50" y2="878.60" stroke="#2a2a2a" stroke-width="0.9"/>
<line x1="999.50" y1="878.60" x2="994.50" y2="878.60" stroke="#2a2a2a" stroke-width="0.9"/>
<line x1="77.50" y1="863.42" x2="82.50" y2="863.42" stroke="#2a2a2a" stroke-width="0.9"/>
<line x1="999.50" y1="863.42" x2="994.50" y2="863.42" stroke="#2a2a2a" stroke-width="0.9"/>
<line x1="77.50" y1="833.08" x2="82.50" y2="833.08" stroke="#2a2a2a" stroke-width="0.9"/>
<line x1="999.50" y1="833.08" x2="994.50" y2="833.08" stroke="#2a2a2a" stroke-width="0.9"/>
<line x1="77.50" y1="817.90" x2="82.50" y2="817.90" stroke="#2a2a2a" stroke-width="0.9"/>
<line x1="999.50" y1="817.90" x2="994.50" y2="817.90" stroke="#2a2a2a" stroke-width="0.9"/>
<line x1="77.50" y1="802.73" x2="82.50" y2="802.73" stroke="#2a2a2a" stroke-width="0.9"/>
<line x1="999.50" y1="802.73" x2="994.50" y2="802.73" stroke="#2a2a2a" stroke-width="0.9"/>
<line x1="77.50" y1="772.39" x2="82.50" y2="772.39" stroke="#2a2a2a" stroke-width="0.9"/>
<line x1="999.50" y1="772.39" x2="994.50" y2="772.39" stroke="#2a2a2a" stroke-width="0.9"/>
<line x1="77.50" y1="757.22" x2="82.50" y2="757.22" stroke="#2a2a2a" stroke-width="0.9"/>
<line x1="999.50" y1="757.22" x2="994.50" y2="757.22" stroke="#2a2a2a" stroke-width="0.9"/>
<line x1="77.50" y1="742.04" x2="82.50" y2="742.04" stroke="#2a2a2a" stroke-width="0.9"/>
<line x1="999.50" y1="742.04" x2="994.50" y2="742.04" stroke="#2a2a2a" stroke-width="0.9"/>
<line x1="77.50" y1="711.70" x2="82.50" y2="711.70" stroke="#2a2a2a" stroke-width="0.9"/>
<line x1="999.50" y1="711.70" x2="994.50" y2="711.70" stroke="#2a2a2a" stroke-width="0.9"/>
<line x1="77.50" y1="696.52" x2="82.50" y2="696.52" stroke="#2a2a2a" stroke-width="0.9"/>
<line x1="999.50" y1="696.52" x2="994.50" y2="696.52" stroke="#2a2a2a" stroke-width="0.9"/>
<line x1="77.50" y1="681.35" x2="82.50" y2="681.35" stroke="#2a2a2a" stroke-width="0.9"/>
<line x1="999.50" y1="681.35" x2="994.50" y2="681.35" stroke="#2a2a2a" stroke-width="0.9"/>
<line x1="77.50" y1="651.01" x2="82.50" y2="651.01" stroke="#2a2a2a" stroke-width="0.9"/>
<line x1="999.50" y1="651.01" x2="994.50" y2="651.01" stroke="#2a2a2a" stroke-width="0.9"/>
<line x1="77.50" y1="635.84" x2="82.50" y2="635.84" stroke="#2a2a2a" stroke-width="0.9"/>
<line x1="999.50" y1="635.84" x2="994.50" y2="635.84" stroke="#2a2a2a" stroke-width="0.9"/>
<line x1="77.50" y1="620.66" x2="82.50" y2="620.66" stroke="#2a2a2a" stroke-width="0.9"/>
<line x1="999.50" y1="620.66" x2="994.50" y2="620.66" stroke="#2a2a2a" stroke-width="0.9"/>
<text x="70.8" y="1037.02" text-anchor="end">−0.6</text>
<text x="70.8" y="976.33" text-anchor="end">−0.4</text>
<text x="70.8" y="915.64" text-anchor="end">−0.2</text>
<text x="70.8" y="854.95" text-anchor="end">0.0</text>
<text x="70.8" y="794.26" text-anchor="end">0.2</text>
<text x="70.8" y="733.57" text-anchor="end">0.4</text>
<text x="70.8" y="672.88" text-anchor="end">0.6</text>
<text x="70.8" y="612.19" text-anchor="end">0.8</text>
<path d="M95.70,847.38 L96.81,847.35 L97.91,847.31 L99.02,847.27 L100.13,847.23 L101.24,847.19 L102.34,847.15 L103.45,847.11 L104.56,847.06 L105.67,847.02 L106.77,846.97 L107.88,846.92 L108.99,846.87 L110.09,846.82 L111.20,846.76 L112.31,846.71 L113.42,846.65 L114.52,846.59 L115.63,846.53 L116.74,846.46 L117.85,846.40 L118.95,846.33 L120.06,846.26 L121.17,846.19 L122.27,846.11 L123.38,846.03 L124.49,845.96 L125.60,845.87 L126.70,845.79 L127.81,845.70 L128.92,845.61 L130.02,845.52 L131.13,845.43 L132.24,845.33 L133.35,845.23 L134.45,845.13 L135.56,845.02 L136.67,844.91 L137.78,844.80 L138.88,844.68 L139.99,844.56 L141.10,844.44 L142.20,844.32 L143.31,844.19 L144.42,844.05 L145.53,843.92 L146.63,843.78 L147.74,843.63 L148.85,843.49 L149.96,843.34 L151.06,843.18 L152.17,843.02 L153.28,842.86 L154.38,842.69 L155.49,842.52 L156.60,842.34 L157.71,842.16 L158.81,841.98 L159.92,841.79 L161.03,841.59 L162.14,841.39 L163.24,841.19 L164.35,840.98 L165.46,840.76 L166.56,840.55 L167.67,840.32 L168.78,840.09 L169.89,839.86 L170.99,839.62 L172.10,839.37 L173.21,839.12 L174.31,838.86 L175.42,838.60 L176.53,838.33 L177.64,838.05 L178.74,837.77 L179.85,837.49 L180.96,837.19 L182.07,836.89 L183.17,836.59 L184.28,836.27 L185.39,835.96 L186.49,835.63 L187.60,835.30 L188.71,834.96 L189.82,834.61 L190.92,834.26 L192.03,833.90 L193.14,833.53 L194.25,833.16 L195.35,832.78 L196.46,832.39 L197.57,831.99 L198.67,831.59 L199.78,831.18 L200.89,830.76 L202.00,830.33 L203.10,829.90 L204.21,829.46 L205.32,829.01 L206.43,828.55 L207.53,828.08 L208.64,827.61 L209.75,827.12 L210.85,826.63 L211.96,826.13 L213.07,825.63 L214.18,825.11 L215.28,824.59 L216.39,824.05 L217.50,823.51 L218.60,822.96 L219.71,822.40 L220.82,821.83 L221.93,821.26 L223.03,820.67 L224.14,820.07 L225.25,819.47 L226.36,818.86 L227.46,818.24 L228.57,817.61 L229.68,816.97 L230.78,816.32 L231.89,815.66 L233.00,814.99 L234.11,814.31 L235.21,813.63 L236.32,812.93 L237.43,812.23 L238.54,811.51 L239.64,810.79 L240.75,810.06 L241.86,809.32 L242.96,808.56 L244.07,807.80 L245.18,807.03 L246.29,806.25 L247.39,805.47 L248.50,804.67 L249.61,803.86 L250.72,803.04 L251.82,802.22 L252.93,801.38 L254.04,800.54 L255.14,799.68 L256.25,798.82 L257.36,797.95 L258.47,797.07 L259.57,796.18 L260.68,795.28 L261.79,794.37 L262.89,793.45 L264.00,792.53 L265.11,791.59 L266.22,790.65 L267.32,789.70 L268.43,788.73 L269.54,787.77 L270.65,786.79 L271.75,785.80 L272.86,784.81 L273.97,783.80 L275.07,782.79 L276.18,781.77 L277.29,780.74 L278.40,779.71 L279.50,778.66 L280.61,777.61 L281.72,776.55 L282.83,775.49 L283.93,774.41 L285.04,773.33 L286.15,772.24 L287.25,771.15 L288.36,770.05 L289.47,768.94 L290.58,767.82 L291.68,766.70 L292.79,765.57 L293.90,764.43 L295.00,763.29 L296.11,762.15 L297.22,760.99 L298.33,759.83 L299.43,758.67 L300.54,757.50 L301.65,756.32 L302.76,755.14 L303.86,753.96 L304.97,752.77 L306.08,751.57 L307.18,750.37 L308.29,749.17 L309.40,747.96 L310.51,746.75 L311.61,745.53 L312.72,744.31 L313.83,743.09 L314.94,741.86 L316.04,740.63 L317.15,739.40 L318.26,738.17 L319.36,736.93 L320.47,735.69 L321.58,734.45 L322.69,733.21 L323.79,731.96 L324.90,730.71 L326.01,729.47 L327.12,728.22 L328.22,726.97 L329.33,725.71 L330.44,724.46 L331.54,723.21 L332.65,721.96 L333.76,720.71 L334.87,719.46 L335.97,718.21 L337.08,716.96 L338.19,715.71 L339.30,714.46 L340.40,713.21 L341.51,711.97 L342.62,710.72 L343.72,709.48 L344.83,708.24 L345.94,707.00 L347.05,705.77 L348.15,704.54 L349.26,703.31 L350.37,702.08 L351.47,700.86 L352.58,699.64 L353.69,698.43 L354.80,697.22 L355.90,696.01 L357.01,694.81 L358.12,693.61 L359.23,692.42 L360.33,691.23 L361.44,690.05 L362.55,688.88 L363.65,687.70 L364.76,686.54 L365.87,685.38 L366.98,684.23 L368.08,683.08 L369.19,681.94 L370.30,680.81 L371.41,679.68 L372.51,678.56 L373.62,677.45 L374.73,676.35 L375.83,675.25 L376.94,674.16 L378.05,673.08 L379.16,672.01 L380.26,670.94 L381.37,669.89 L382.48,668.84 L383.59,667.80 L384.69,666.77 L385.80,665.75 L386.91,664.74 L388.01,663.73 L389.12,662.74 L390.23,661.76 L391.34,660.78 L392.44,659.82 L393.55,658.87 L394.66,657.92 L395.76,656.99 L396.87,656.07 L397.98,655.15 L399.09,654.25 L400.19,653.36 L401.30,652.48 L402.41,651.61 L403.52,650.75 L404.62,649.90 L405.73,649.06 L406.84,648.24 L407.94,647.42 L409.05,646.62 L410.16,645.82 L411.27,645.04 L412.37,644.27 L413.48,643.51 L414.59,642.77 L415.70,642.03 L416.80,641.31 L417.91,640.59 L419.02,639.89 L420.12,639.20 L421.23,638.53 L422.34,637.86 L423.45,637.21 L424.55,636.56 L425.66,635.93 L426.77,635.31 L427.88,634.71 L428.98,634.11 L430.09,633.52 L431.20,632.95 L432.30,632.39 L433.41,631.84 L434.52,631.30 L435.63,630.77 L436.73,630.26 L437.84,629.75 L438.95,629.26 L440.05,628.78 L441.16,628.31 L442.27,627.85 L443.38,627.40 L444.48,626.96 L445.59,626.53 L446.70,626.11 L447.81,625.71 L448.91,625.31 L450.02,624.93 L451.13,624.55 L452.23,624.19 L453.34,623.83 L454.45,623.49 L455.56,623.15 L456.66,622.83 L457.77,622.51 L458.88,622.21 L459.99,621.91 L461.09,621.62 L462.20,621.35 L463.31,621.08 L464.41,620.82 L465.52,620.57 L466.63,620.32 L467.74,620.09 L468.84,619.86 L469.95,619.64 L471.06,619.43 L472.17,619.23 L473.27,619.04 L474.38,618.85 L475.49,618.67 L476.59,618.49 L477.70,618.33 L478.81,618.17 L479.92,618.02 L481.02,617.87 L482.13,617.73 L483.24,617.60 L484.34,617.47 L485.45,617.35 L486.56,617.23 L487.67,617.12 L488.77,617.02 L489.88,616.92 L490.99,616.82 L492.10,616.73 L493.20,616.65 L494.31,616.57 L495.42,616.49 L496.52,616.42 L497.63,616.35 L498.74,616.29 L499.85,616.23 L500.95,616.17 L502.06,616.11 L503.17,616.06 L504.28,616.02 L505.38,615.97 L506.49,615.93 L507.60,615.89 L508.70,615.86 L509.81,615.83 L510.92,615.79 L512.03,615.77 L513.13,615.74 L514.24,615.71 L515.35,615.69 L516.46,615.67 L517.56,615.65 L518.67,615.63 L519.78,615.62 L520.88,615.60 L521.99,615.59 L523.10,615.58 L524.21,615.57 L525.31,615.56 L526.42,615.55 L527.53,615.54 L528.63,615.53 L529.74,615.53 L530.85,615.52 L531.96,615.52 L533.06,615.51 L534.17,615.51 L535.28,615.51 L536.39,615.51 L537.49,615.51 L538.60,615.51 L539.71,615.51 L540.81,615.51 L541.92,615.51 L543.03,615.51 L544.14,615.51 L545.24,615.52 L546.35,615.52 L547.46,615.53 L548.57,615.53 L549.67,615.54 L550.78,615.55 L551.89,615.56 L552.99,615.57 L554.10,615.58 L555.21,615.59 L556.32,615.60 L557.42,615.62 L558.53,615.63 L559.64,615.65 L560.75,615.67 L561.85,615.69 L562.96,615.71 L564.07,615.74 L565.17,615.77 L566.28,615.79 L567.39,615.83 L568.50,615.86 L569.60,615.89 L570.71,615.93 L571.82,615.97 L572.92,616.02 L574.03,616.06 L575.14,616.11 L576.25,616.17 L577.35,616.23 L578.46,616.29 L579.57,616.35 L580.68,616.42 L581.78,616.49 L582.89,616.57 L584.00,616.65 L585.10,616.73 L586.21,616.82 L587.32,616.92 L588.43,617.02 L589.53,617.12 L590.64,617.23 L591.75,617.35 L592.86,617.47 L593.96,617.60 L595.07,617.73 L596.18,617.87 L597.28,618.02 L598.39,618.17 L599.50,618.33 L600.61,618.49 L601.71,618.67 L602.82,618.85 L603.93,619.04 L605.04,619.23 L606.14,619.43 L607.25,619.64 L608.36,619.86 L609.46,620.09 L610.57,620.32 L611.68,620.57 L612.79,620.82 L613.89,621.08 L615.00,621.35 L616.11,621.62 L617.21,621.91 L618.32,622.21 L619.43,622.51 L620.54,622.83 L621.64,623.15 L622.75,623.49 L623.86,623.83 L624.97,624.19 L626.07,624.55 L627.18,624.93 L628.29,625.31 L629.39,625.71 L630.50,626.11 L631.61,626.53 L632.72,626.96 L633.82,627.40 L634.93,627.85 L636.04,628.31 L637.15,628.78 L638.25,629.26 L639.36,629.75 L640.47,630.26 L641.57,630.77 L642.68,631.30 L643.79,631.84 L644.90,632.39 L646.00,632.95 L647.11,633.52 L648.22,634.11 L649.33,634.71 L650.43,635.31 L651.54,635.93 L652.65,636.56 L653.75,637.21 L654.86,637.86 L655.97,638.53 L657.08,639.20 L658.18,639.89 L659.29,640.59 L660.40,641.31 L661.50,642.03 L662.61,642.77 L663.72,643.51 L664.83,644.27 L665.93,645.04 L667.04,645.82 L668.15,646.62 L669.26,647.42 L670.36,648.24 L671.47,649.06 L672.58,649.90 L673.68,650.75 L674.79,651.61 L675.90,652.48 L677.01,653.36 L678.11,654.25 L679.22,655.15 L680.33,656.07 L681.44,656.99 L682.54,657.92 L683.65,658.87 L684.76,659.82 L685.86,660.78 L686.97,661.76 L688.08,662.74 L689.19,663.73 L690.29,664.74 L691.40,665.75 L692.51,666.77 L693.62,667.80 L694.72,668.84 L695.83,669.89 L696.94,670.94 L698.04,672.01 L699.15,673.08 L700.26,674.16 L701.37,675.25 L702.47,676.35 L703.58,677.45 L704.69,678.56 L705.79,679.68 L706.90,680.81 L708.01,681.94 L709.12,683.08 L710.22,684.23 L711.33,685.38 L712.44,686.54 L713.55,687.70 L714.65,688.88 L715.76,690.05 L716.87,691.23 L717.97,692.42 L719.08,693.61 L720.19,694.81 L721.30,696.01 L722.40,697.22 L723.51,698.43 L724.62,699.64 L725.73,700.86 L726.83,702.08 L727.94,703.31 L729.05,704.54 L730.15,705.77 L731.26,707.00 L732.37,708.24 L733.48,709.48 L734.58,710.72 L735.69,711.97 L736.80,713.21 L737.90,714.46 L739.01,715.71 L740.12,716.96 L741.23,718.21 L742.33,719.46 L743.44,720.71 L744.55,721.96 L745.66,723.21 L746.76,724.46 L747.87,725.71 L748.98,726.97 L750.08,728.22 L751.19,729.47 L752.30,730.71 L753.41,731.96 L754.51,733.21 L755.62,734.45 L756.73,735.69 L757.84,736.93 L758.94,738.17 L760.05,739.40 L761.16,740.63 L762.26,741.86 L763.37,743.09 L764.48,744.31 L765.59,745.53 L766.69,746.75 L767.80,747.96 L768.91,749.17 L770.02,750.37 L771.12,751.57 L772.23,752.77 L773.34,753.96 L774.44,755.14 L775.55,756.32 L776.66,757.50 L777.77,758.67 L778.87,759.83 L779.98,760.99 L781.09,762.15 L782.20,763.29 L783.30,764.43 L784.41,765.57 L785.52,766.70 L786.62,767.82 L787.73,768.94 L788.84,770.05 L789.95,771.15 L791.05,772.24 L792.16,773.33 L793.27,774.41 L794.37,775.49 L795.48,776.55 L796.59,777.61 L797.70,778.66 L798.80,779.71 L799.91,780.74 L801.02,781.77 L802.13,782.79 L803.23,783.80 L804.34,784.81 L805.45,785.80 L806.55,786.79 L807.66,787.77 L808.77,788.73 L809.88,789.70 L810.98,790.65 L812.09,791.59 L813.20,792.53 L814.31,793.45 L815.41,794.37 L816.52,795.28 L817.63,796.18 L818.73,797.07 L819.84,797.95 L820.95,798.82 L822.06,799.68 L823.16,800.54 L824.27,801.38 L825.38,802.22 L826.49,803.04 L827.59,803.86 L828.70,804.67 L829.81,805.47 L830.91,806.25 L832.02,807.03 L833.13,807.80 L834.24,808.56 L835.34,809.32 L836.45,810.06 L837.56,810.79 L838.66,811.51 L839.77,812.23 L840.88,812.93 L841.99,813.63 L843.09,814.31 L844.20,814.99 L845.31,815.66 L846.42,816.32 L847.52,816.97 L848.63,817.61 L849.74,818.24 L850.84,818.86 L851.95,819.47 L853.06,820.07 L854.17,820.67 L855.27,821.26 L856.38,821.83 L857.49,822.40 L858.60,822.96 L859.70,823.51 L860.81,824.05 L861.92,824.59 L863.02,825.11 L864.13,825.63 L865.24,826.13 L866.35,826.63 L867.45,827.12 L868.56,827.61 L869.67,828.08 L870.78,828.55 L871.88,829.01 L872.99,829.46 L874.10,829.90 L875.20,830.33 L876.31,830.76 L877.42,831.18 L878.53,831.59 L879.63,831.99 L880.74,832.39 L881.85,832.78 L882.95,833.16 L884.06,833.53 L885.17,833.90 L886.28,834.26 L887.38,834.61 L888.49,834.96 L889.60,835.30 L890.71,835.63 L891.81,835.96 L892.92,836.27 L894.03,836.59 L895.13,836.89 L896.24,837.19 L897.35,837.49 L898.46,837.77 L899.56,838.05 L900.67,838.33 L901.78,838.60 L902.89,838.86 L903.99,839.12 L905.10,839.37 L906.21,839.62 L907.31,839.86 L908.42,840.09 L909.53,840.32 L910.64,840.55 L911.74,840.76 L912.85,840.98 L913.96,841.19 L915.07,841.39 L916.17,841.59 L917.28,841.79 L918.39,841.98 L919.49,842.16 L920.60,842.34 L921.71,842.52 L922.82,842.69 L923.92,842.86 L925.03,843.02 L926.14,843.18 L927.24,843.34 L928.35,843.49 L929.46,843.63 L930.57,843.78 L931.67,843.92 L932.78,844.05 L933.89,844.19 L935.00,844.32 L936.10,844.44 L937.21,844.56 L938.32,844.68 L939.42,844.80 L940.53,844.91 L941.64,845.02 L942.75,845.13 L943.85,845.23 L944.96,845.33 L946.07,845.43 L947.18,845.52 L948.28,845.61 L949.39,845.70 L950.50,845.79 L951.60,845.87 L952.71,845.96 L953.82,846.03 L954.93,846.11 L956.03,846.19 L957.14,846.26 L958.25,846.33 L959.36,846.40 L960.46,846.46 L961.57,846.53 L962.68,846.59 L963.78,846.65 L964.89,846.71 L966.00,846.76 L967.11,846.82 L968.21,846.87 L969.32,846.92 L970.43,846.97 L971.53,847.02 L972.64,847.06 L973.75,847.11 L974.86,847.15 L975.96,847.19 L977.07,847.23 L978.18,847.27 L979.29,847.31 L980.39,847.35 L981.50,847.38" fill="none" stroke="#000" stroke-width="3.5" stroke-linecap="square" stroke-linejoin="round"/>
<path d="M95.70,848.02 L96.81,848.01 L97.91,848.00 L99.02,847.99 L100.13,847.98 L101.24,847.97 L102.34,847.96 L103.45,847.95 L104.56,847.94 L105.67,847.93 L106.77,847.92 L107.88,847.90 L108.99,847.89 L110.09,847.88 L111.20,847.86 L112.31,847.85 L113.42,847.84 L114.52,847.82 L115.63,847.81 L116.74,847.79 L117.85,847.77 L118.95,847.76 L120.06,847.74 L121.17,847.72 L122.27,847.70 L123.38,847.69 L124.49,847.67 L125.60,847.65 L126.70,847.63 L127.81,847.60 L128.92,847.58 L130.02,847.56 L131.13,847.54 L132.24,847.51 L133.35,847.49 L134.45,847.46 L135.56,847.43 L136.67,847.41 L137.78,847.38 L138.88,847.35 L139.99,847.32 L141.10,847.29 L142.20,847.26 L143.31,847.23 L144.42,847.19 L145.53,847.16 L146.63,847.12 L147.74,847.09 L148.85,847.05 L149.96,847.01 L151.06,846.97 L152.17,846.93 L153.28,846.89 L154.38,846.85 L155.49,846.80 L156.60,846.76 L157.71,846.71 L158.81,846.66 L159.92,846.61 L161.03,846.56 L162.14,846.51 L163.24,846.46 L164.35,846.40 L165.46,846.34 L166.56,846.29 L167.67,846.23 L168.78,846.17 L169.89,846.10 L170.99,846.04 L172.10,845.97 L173.21,845.91 L174.31,845.84 L175.42,845.76 L176.53,845.69 L177.64,845.62 L178.74,845.54 L179.85,845.46 L180.96,845.38 L182.07,845.30 L183.17,845.21 L184.28,845.13 L185.39,845.04 L186.49,844.94 L187.60,844.85 L188.71,844.76 L189.82,844.66 L190.92,844.56 L192.03,844.45 L193.14,844.35 L194.25,844.24 L195.35,844.13 L196.46,844.02 L197.57,843.90 L198.67,843.78 L199.78,843.66 L200.89,843.54 L202.00,843.41 L203.10,843.28 L204.21,843.15 L205.32,843.01 L206.43,842.87 L207.53,842.73 L208.64,842.58 L209.75,842.43 L210.85,842.28 L211.96,842.13 L213.07,841.97 L214.18,841.81 L215.28,841.64 L216.39,841.47 L217.50,841.30 L218.60,841.12 L219.71,840.94 L220.82,840.76 L221.93,840.57 L223.03,840.38 L224.14,840.18 L225.25,839.98 L226.36,839.78 L227.46,839.57 L228.57,839.35 L229.68,839.14 L230.78,838.92 L231.89,838.69 L233.00,838.46 L234.11,838.22 L235.21,837.99 L236.32,837.74 L237.43,837.49 L238.54,837.24 L239.64,836.98 L240.75,836.72 L241.86,836.45 L242.96,836.17 L244.07,835.89 L245.18,835.61 L246.29,835.32 L247.39,835.03 L248.50,834.72 L249.61,834.42 L250.72,834.11 L251.82,833.79 L252.93,833.47 L254.04,833.14 L255.14,832.81 L256.25,832.46 L257.36,832.12 L258.47,831.77 L259.57,831.41 L260.68,831.04 L261.79,830.67 L262.89,830.30 L264.00,829.91 L265.11,829.52 L266.22,829.13 L267.32,828.72 L268.43,828.32 L269.54,827.90 L270.65,827.48 L271.75,827.05 L272.86,826.61 L273.97,826.17 L275.07,825.72 L276.18,825.26 L277.29,824.80 L278.40,824.32 L279.50,823.85 L280.61,823.36 L281.72,822.87 L282.83,822.37 L283.93,821.86 L285.04,821.34 L286.15,820.82 L287.25,820.29 L288.36,819.75 L289.47,819.20 L290.58,818.65 L291.68,818.09 L292.79,817.52 L293.90,816.94 L295.00,816.36 L296.11,815.76 L297.22,815.16 L298.33,814.55 L299.43,813.94 L300.54,813.31 L301.65,812.68 L302.76,812.03 L303.86,811.38 L304.97,810.73 L306.08,810.06 L307.18,809.38 L308.29,808.70 L309.40,808.01 L310.51,807.31 L311.61,806.60 L312.72,805.88 L313.83,805.16 L314.94,804.42 L316.04,803.68 L317.15,802.93 L318.26,802.17 L319.36,801.40 L320.47,800.63 L321.58,799.84 L322.69,799.05 L323.79,798.24 L324.90,797.43 L326.01,796.61 L327.12,795.79 L328.22,794.95 L329.33,794.10 L330.44,793.25 L331.54,792.39 L332.65,791.52 L333.76,790.64 L334.87,789.75 L335.97,788.85 L337.08,787.95 L338.19,787.04 L339.30,786.11 L340.40,785.18 L341.51,784.25 L342.62,783.30 L343.72,782.35 L344.83,781.38 L345.94,780.41 L347.05,779.43 L348.15,778.45 L349.26,777.45 L350.37,776.45 L351.47,775.44 L352.58,774.42 L353.69,773.39 L354.80,772.36 L355.90,771.32 L357.01,770.27 L358.12,769.21 L359.23,768.15 L360.33,767.08 L361.44,766.00 L362.55,764.91 L363.65,763.82 L364.76,762.72 L365.87,761.61 L366.98,760.50 L368.08,759.38 L369.19,758.25 L370.30,757.12 L371.41,755.98 L372.51,754.83 L373.62,753.68 L374.73,752.52 L375.83,751.36 L376.94,750.19 L378.05,749.01 L379.16,747.83 L380.26,746.64 L381.37,745.45 L382.48,744.26 L383.59,743.05 L384.69,741.85 L385.80,740.64 L386.91,739.42 L388.01,738.20 L389.12,736.97 L390.23,735.74 L391.34,734.51 L392.44,733.27 L393.55,732.03 L394.66,730.79 L395.76,729.54 L396.87,728.29 L397.98,727.04 L399.09,725.78 L400.19,724.52 L401.30,723.26 L402.41,722.00 L403.52,720.73 L404.62,719.47 L405.73,718.20 L406.84,716.93 L407.94,715.65 L409.05,714.38 L410.16,713.11 L411.27,711.83 L412.37,710.56 L413.48,709.28 L414.59,708.00 L415.70,706.73 L416.80,705.45 L417.91,704.18 L419.02,702.90 L420.12,701.63 L421.23,700.36 L422.34,699.08 L423.45,697.81 L424.55,696.55 L425.66,695.28 L426.77,694.02 L427.88,692.76 L428.98,691.50 L430.09,690.24 L431.20,688.99 L432.30,687.74 L433.41,686.49 L434.52,685.25 L435.63,684.01 L436.73,682.78 L437.84,681.55 L438.95,680.32 L440.05,679.10 L441.16,677.89 L442.27,676.68 L443.38,675.47 L444.48,674.27 L445.59,673.08 L446.70,671.90 L447.81,670.72 L448.91,669.54 L450.02,668.38 L451.13,667.22 L452.23,666.07 L453.34,664.92 L454.45,663.79 L455.56,662.66 L456.66,661.54 L457.77,660.43 L458.88,659.33 L459.99,658.24 L461.09,657.15 L462.20,656.08 L463.31,655.01 L464.41,653.96 L465.52,652.91 L466.63,651.88 L467.74,650.86 L468.84,649.84 L469.95,648.84 L471.06,647.85 L472.17,646.87 L473.27,645.91 L474.38,644.95 L475.49,644.01 L476.59,643.07 L477.70,642.16 L478.81,641.25 L479.92,640.36 L481.02,639.48 L482.13,638.61 L483.24,637.75 L484.34,636.91 L485.45,636.09 L486.56,635.28 L487.67,634.48 L488.77,633.69 L489.88,632.92 L490.99,632.17 L492.10,631.43 L493.20,630.71 L494.31,630.00 L495.42,629.30 L496.52,628.62 L497.63,627.96 L498.74,627.31 L499.85,626.68 L500.95,626.07 L502.06,625.47 L503.17,624.88 L504.28,624.32 L505.38,623.77 L506.49,623.24 L507.60,622.72 L508.70,622.22 L509.81,621.74 L510.92,621.27 L512.03,620.83 L513.13,620.40 L514.24,619.99 L515.35,619.59 L516.46,619.21 L517.56,618.86 L518.67,618.51 L519.78,618.19 L520.88,617.89 L521.99,617.60 L523.10,617.33 L524.21,617.08 L525.31,616.85 L526.42,616.63 L527.53,616.44 L528.63,616.26 L529.74,616.10 L530.85,615.96 L531.96,615.84 L533.06,615.74 L534.17,615.66 L535.28,615.59 L536.39,615.54 L537.49,615.52 L538.60,615.51 L539.71,615.52 L540.81,615.54 L541.92,615.59 L543.03,615.66 L544.14,615.74 L545.24,615.84 L546.35,615.96 L547.46,616.10 L548.57,616.26 L549.67,616.44 L550.78,616.63 L551.89,616.85 L552.99,617.08 L554.10,617.33 L555.21,617.60 L556.32,617.89 L557.42,618.19 L558.53,618.51 L559.64,618.86 L560.75,619.21 L561.85,619.59 L562.96,619.99 L564.07,620.40 L565.17,620.83 L566.28,621.27 L567.39,621.74 L568.50,622.22 L569.60,622.72 L570.71,623.24 L571.82,623.77 L572.92,624.32 L574.03,624.88 L575.14,625.47 L576.25,626.07 L577.35,626.68 L578.46,627.31 L579.57,627.96 L580.68,628.62 L581.78,629.30 L582.89,630.00 L584.00,630.71 L585.10,631.43 L586.21,632.17 L587.32,632.92 L588.43,633.69 L589.53,634.48 L590.64,635.28 L591.75,636.09 L592.86,636.91 L593.96,637.75 L595.07,638.61 L596.18,639.48 L597.28,640.36 L598.39,641.25 L599.50,642.16 L600.61,643.07 L601.71,644.01 L602.82,644.95 L603.93,645.91 L605.04,646.87 L606.14,647.85 L607.25,648.84 L608.36,649.84 L609.46,650.86 L610.57,651.88 L611.68,652.91 L612.79,653.96 L613.89,655.01 L615.00,656.08 L616.11,657.15 L617.21,658.24 L618.32,659.33 L619.43,660.43 L620.54,661.54 L621.64,662.66 L622.75,663.79 L623.86,664.92 L624.97,666.07 L626.07,667.22 L627.18,668.38 L628.29,669.54 L629.39,670.72 L630.50,671.90 L631.61,673.08 L632.72,674.27 L633.82,675.47 L634.93,676.68 L636.04,677.89 L637.15,679.10 L638.25,680.32 L639.36,681.55 L640.47,682.78 L641.57,684.01 L642.68,685.25 L643.79,686.49 L644.90,687.74 L646.00,688.99 L647.11,690.24 L648.22,691.50 L649.33,692.76 L650.43,694.02 L651.54,695.28 L652.65,696.55 L653.75,697.81 L654.86,699.08 L655.97,700.36 L657.08,701.63 L658.18,702.90 L659.29,704.18 L660.40,705.45 L661.50,706.73 L662.61,708.00 L663.72,709.28 L664.83,710.56 L665.93,711.83 L667.04,713.11 L668.15,714.38 L669.26,715.65 L670.36,716.93 L671.47,718.20 L672.58,719.47 L673.68,720.73 L674.79,722.00 L675.90,723.26 L677.01,724.52 L678.11,725.78 L679.22,727.04 L680.33,728.29 L681.44,729.54 L682.54,730.79 L683.65,732.03 L684.76,733.27 L685.86,734.51 L686.97,735.74 L688.08,736.97 L689.19,738.20 L690.29,739.42 L691.40,740.64 L692.51,741.85 L693.62,743.05 L694.72,744.26 L695.83,745.45 L696.94,746.64 L698.04,747.83 L699.15,749.01 L700.26,750.19 L701.37,751.36 L702.47,752.52 L703.58,753.68 L704.69,754.83 L705.79,755.98 L706.90,757.12 L708.01,758.25 L709.12,759.38 L710.22,760.50 L711.33,761.61 L712.44,762.72 L713.55,763.82 L714.65,764.91 L715.76,766.00 L716.87,767.08 L717.97,768.15 L719.08,769.21 L720.19,770.27 L721.30,771.32 L722.40,772.36 L723.51,773.39 L724.62,774.42 L725.73,775.44 L726.83,776.45 L727.94,777.45 L729.05,778.45 L730.15,779.43 L731.26,780.41 L732.37,781.38 L733.48,782.35 L734.58,783.30 L735.69,784.25 L736.80,785.18 L737.90,786.11 L739.01,787.04 L740.12,787.95 L741.23,788.85 L742.33,789.75 L743.44,790.64 L744.55,791.52 L745.66,792.39 L746.76,793.25 L747.87,794.10 L748.98,794.95 L750.08,795.79 L751.19,796.61 L752.30,797.43 L753.41,798.24 L754.51,799.05 L755.62,799.84 L756.73,800.63 L757.84,801.40 L758.94,802.17 L760.05,802.93 L761.16,803.68 L762.26,804.42 L763.37,805.16 L764.48,805.88 L765.59,806.60 L766.69,807.31 L767.80,808.01 L768.91,808.70 L770.02,809.38 L771.12,810.06 L772.23,810.73 L773.34,811.38 L774.44,812.03 L775.55,812.68 L776.66,813.31 L777.77,813.94 L778.87,814.55 L779.98,815.16 L781.09,815.76 L782.20,816.36 L783.30,816.94 L784.41,817.52 L785.52,818.09 L786.62,818.65 L787.73,819.20 L788.84,819.75 L789.95,820.29 L791.05,820.82 L792.16,821.34 L793.27,821.86 L794.37,822.37 L795.48,822.87 L796.59,823.36 L797.70,823.85 L798.80,824.32 L799.91,824.80 L801.02,825.26 L802.13,825.72 L803.23,826.17 L804.34,826.61 L805.45,827.05 L806.55,827.48 L807.66,827.90 L808.77,828.32 L809.88,828.72 L810.98,829.13 L812.09,829.52 L813.20,829.91 L814.31,830.30 L815.41,830.67 L816.52,831.04 L817.63,831.41 L818.73,831.77 L819.84,832.12 L820.95,832.46 L822.06,832.81 L823.16,833.14 L824.27,833.47 L825.38,833.79 L826.49,834.11 L827.59,834.42 L828.70,834.72 L829.81,835.03 L830.91,835.32 L832.02,835.61 L833.13,835.89 L834.24,836.17 L835.34,836.45 L836.45,836.72 L837.56,836.98 L838.66,837.24 L839.77,837.49 L840.88,837.74 L841.99,837.99 L843.09,838.22 L844.20,838.46 L845.31,838.69 L846.42,838.92 L847.52,839.14 L848.63,839.35 L849.74,839.57 L850.84,839.78 L851.95,839.98 L853.06,840.18 L854.17,840.38 L855.27,840.57 L856.38,840.76 L857.49,840.94 L858.60,841.12 L859.70,841.30 L860.81,841.47 L861.92,841.64 L863.02,841.81 L864.13,841.97 L865.24,842.13 L866.35,842.28 L867.45,842.43 L868.56,842.58 L869.67,842.73 L870.78,842.87 L871.88,843.01 L872.99,843.15 L874.10,843.28 L875.20,843.41 L876.31,843.54 L877.42,843.66 L878.53,843.78 L879.63,843.90 L880.74,844.02 L881.85,844.13 L882.95,844.24 L884.06,844.35 L885.17,844.45 L886.28,844.56 L887.38,844.66 L888.49,844.76 L889.60,844.85 L890.71,844.94 L891.81,845.04 L892.92,845.13 L894.03,845.21 L895.13,845.30 L896.24,845.38 L897.35,845.46 L898.46,845.54 L899.56,845.62 L900.67,845.69 L901.78,845.76 L902.89,845.84 L903.99,845.91 L905.10,845.97 L906.21,846.04 L907.31,846.10 L908.42,846.17 L909.53,846.23 L910.64,846.29 L911.74,846.34 L912.85,846.40 L913.96,846.46 L915.07,846.51 L916.17,846.56 L917.28,846.61 L918.39,846.66 L919.49,846.71 L920.60,846.76 L921.71,846.80 L922.82,846.85 L923.92,846.89 L925.03,846.93 L926.14,846.97 L927.24,847.01 L928.35,847.05 L929.46,847.09 L930.57,847.12 L931.67,847.16 L932.78,847.19 L933.89,847.23 L935.00,847.26 L936.10,847.29 L937.21,847.32 L938.32,847.35 L939.42,847.38 L940.53,847.41 L941.64,847.43 L942.75,847.46 L943.85,847.49 L944.96,847.51 L946.07,847.54 L947.18,847.56 L948.28,847.58 L949.39,847.60 L950.50,847.63 L951.60,847.65 L952.71,847.67 L953.82,847.69 L954.93,847.70 L956.03,847.72 L957.14,847.74 L958.25,847.76 L959.36,847.77 L960.46,847.79 L961.57,847.81 L962.68,847.82 L963.78,847.84 L964.89,847.85 L966.00,847.86 L967.11,847.88 L968.21,847.89 L969.32,847.90 L970.43,847.92 L971.53,847.93 L972.64,847.94 L973.75,847.95 L974.86,847.96 L975.96,847.97 L977.07,847.98 L978.18,847.99 L979.29,848.00 L980.39,848.01 L981.50,848.02" fill="none" stroke="#f00" stroke-width="3.5" stroke-dasharray="8.24 8.24" stroke-linecap="square" stroke-linejoin="round"/>
<path d="M95.70,847.41 L96.81,847.38 L97.91,847.34 L99.02,847.31 L100.13,847.27 L101.24,847.23 L102.34,847.19 L103.45,847.15 L104.56,847.11 L105.67,847.06 L106.77,847.01 L107.88,846.97 L108.99,846.92 L110.09,846.87 L111.20,846.81 L112.31,846.76 L113.42,846.70 L114.52,846.64 L115.63,846.58 L116.74,846.52 L117.85,846.46 L118.95,846.39 L120.06,846.32 L121.17,846.25 L122.27,846.18 L123.38,846.11 L124.49,846.03 L125.60,845.95 L126.70,845.87 L127.81,845.79 L128.92,845.70 L130.02,845.61 L131.13,845.52 L132.24,845.42 L133.35,845.33 L134.45,845.23 L135.56,845.12 L136.67,845.02 L137.78,844.91 L138.88,844.80 L139.99,844.68 L141.10,844.56 L142.20,844.44 L143.31,844.32 L144.42,844.19 L145.53,844.06 L146.63,843.92 L147.74,843.78 L148.85,843.64 L149.96,843.50 L151.06,843.35 L152.17,843.19 L153.28,843.03 L154.38,842.87 L155.49,842.70 L156.60,842.53 L157.71,842.36 L158.81,842.18 L159.92,842.00 L161.03,841.81 L162.14,841.62 L163.24,841.42 L164.35,841.22 L165.46,841.01 L166.56,840.80 L167.67,840.58 L168.78,840.36 L169.89,840.14 L170.99,839.90 L172.10,839.67 L173.21,839.42 L174.31,839.18 L175.42,838.92 L176.53,838.66 L177.64,838.40 L178.74,838.13 L179.85,837.85 L180.96,837.57 L182.07,837.28 L183.17,836.99 L184.28,836.69 L185.39,836.38 L186.49,836.07 L187.60,835.75 L188.71,835.43 L189.82,835.09 L190.92,834.76 L192.03,834.41 L193.14,834.06 L194.25,833.70 L195.35,833.34 L196.46,832.96 L197.57,832.59 L198.67,832.20 L199.78,831.81 L200.89,831.41 L202.00,831.00 L203.10,830.58 L204.21,830.16 L205.32,829.73 L206.43,829.30 L207.53,828.85 L208.64,828.40 L209.75,827.94 L210.85,827.47 L211.96,827.00 L213.07,826.52 L214.18,826.03 L215.28,825.53 L216.39,825.02 L217.50,824.51 L218.60,823.99 L219.71,823.46 L220.82,822.92 L221.93,822.37 L223.03,821.82 L224.14,821.25 L225.25,820.68 L226.36,820.11 L227.46,819.52 L228.57,818.92 L229.68,818.32 L230.78,817.71 L231.89,817.09 L233.00,816.46 L234.11,815.83 L235.21,815.18 L236.32,814.53 L237.43,813.87 L238.54,813.20 L239.64,812.53 L240.75,811.84 L241.86,811.15 L242.96,810.45 L244.07,809.74 L245.18,809.02 L246.29,808.29 L247.39,807.56 L248.50,806.82 L249.61,806.07 L250.72,805.31 L251.82,804.55 L252.93,803.77 L254.04,802.99 L255.14,802.21 L256.25,801.41 L257.36,800.61 L258.47,799.80 L259.57,798.98 L260.68,798.15 L261.79,797.32 L262.89,796.48 L264.00,795.63 L265.11,794.78 L266.22,793.92 L267.32,793.05 L268.43,792.17 L269.54,791.29 L270.65,790.40 L271.75,789.51 L272.86,788.61 L273.97,787.70 L275.07,786.79 L276.18,785.87 L277.29,784.95 L278.40,784.02 L279.50,783.08 L280.61,782.14 L281.72,781.20 L282.83,780.25 L283.93,779.29 L285.04,778.33 L286.15,777.37 L287.25,776.40 L288.36,775.42 L289.47,774.45 L290.58,773.47 L291.68,772.48 L292.79,771.49 L293.90,770.50 L295.00,769.51 L296.11,768.51 L297.22,767.51 L298.33,766.51 L299.43,765.50 L300.54,764.49 L301.65,763.48 L302.76,762.47 L303.86,761.46 L304.97,760.45 L306.08,759.43 L307.18,758.42 L308.29,757.40 L309.40,756.39 L310.51,755.37 L311.61,754.35 L312.72,753.34 L313.83,752.32 L314.94,751.31 L316.04,750.30 L317.15,749.29 L318.26,748.28 L319.36,747.27 L320.47,746.26 L321.58,745.26 L322.69,744.26 L323.79,743.26 L324.90,742.27 L326.01,741.28 L327.12,740.29 L328.22,739.31 L329.33,738.33 L330.44,737.35 L331.54,736.38 L332.65,735.42 L333.76,734.46 L334.87,733.51 L335.97,732.56 L337.08,731.62 L338.19,730.69 L339.30,729.76 L340.40,728.84 L341.51,727.93 L342.62,727.03 L343.72,726.13 L344.83,725.24 L345.94,724.36 L347.05,723.49 L348.15,722.63 L349.26,721.78 L350.37,720.94 L351.47,720.10 L352.58,719.28 L353.69,718.47 L354.80,717.67 L355.90,716.88 L357.01,716.11 L358.12,715.34 L359.23,714.59 L360.33,713.85 L361.44,713.12 L362.55,712.40 L363.65,711.70 L364.76,711.01 L365.87,710.34 L366.98,709.68 L368.08,709.03 L369.19,708.40 L370.30,707.78 L371.41,707.18 L372.51,706.59 L373.62,706.02 L374.73,705.47 L375.83,704.93 L376.94,704.41 L378.05,703.90 L379.16,703.41 L380.26,702.94 L381.37,702.49 L382.48,702.05 L383.59,701.63 L384.69,701.23 L385.80,700.85 L386.91,700.49 L388.01,700.15 L389.12,699.82 L390.23,699.52 L391.34,699.23 L392.44,698.96 L393.55,698.72 L394.66,698.49 L395.76,698.28 L396.87,698.10 L397.98,697.94 L399.09,697.79 L400.19,697.67 L401.30,697.57 L402.41,697.49 L403.52,697.43 L404.62,697.39 L405.73,697.38 L406.84,697.39 L407.94,697.42 L409.05,697.47 L410.16,697.54 L411.27,697.64 L412.37,697.76 L413.48,697.90 L414.59,698.07 L415.70,698.26 L416.80,698.47 L417.91,698.70 L419.02,698.96 L420.12,699.25 L421.23,699.55 L422.34,699.88 L423.45,700.23 L424.55,700.61 L425.66,701.01 L426.77,701.44 L427.88,701.88 L428.98,702.36 L430.09,702.85 L431.20,703.37 L432.30,703.92 L433.41,704.49 L434.52,705.08 L435.63,705.70 L436.73,706.34 L437.84,707.00 L438.95,707.69 L440.05,708.40 L441.16,709.14 L442.27,709.90 L443.38,710.69 L444.48,711.49 L445.59,712.33 L446.70,713.18 L447.81,714.06 L448.91,714.96 L450.02,715.89 L451.13,716.84 L452.23,717.81 L453.34,718.81 L454.45,719.83 L455.56,720.87 L456.66,721.94 L457.77,723.03 L458.88,724.14 L459.99,725.27 L461.09,726.43 L462.20,727.60 L463.31,728.80 L464.41,730.03 L465.52,731.27 L466.63,732.53 L467.74,733.82 L468.84,735.13 L469.95,736.46 L471.06,737.81 L472.17,739.18 L473.27,740.57 L474.38,741.98 L475.49,743.41 L476.59,744.85 L477.70,746.32 L478.81,747.81 L479.92,749.32 L481.02,750.85 L482.13,752.39 L483.24,753.95 L484.34,755.53 L485.45,757.13 L486.56,758.75 L487.67,760.38 L488.77,762.03 L489.88,763.70 L490.99,765.38 L492.10,767.08 L493.20,768.79 L494.31,770.52 L495.42,772.26 L496.52,774.02 L497.63,775.80 L498.74,777.58 L499.85,779.38 L500.95,781.20 L502.06,783.03 L503.17,784.87 L504.28,786.72 L505.38,788.58 L506.49,790.46 L507.60,792.35 L508.70,794.24 L509.81,796.15 L510.92,798.07 L512.03,800.00 L513.13,801.94 L514.24,803.89 L515.35,805.84 L516.46,807.81 L517.56,809.78 L518.67,811.76 L519.78,813.75 L520.88,815.74 L521.99,817.74 L523.10,819.75 L524.21,821.76 L525.31,823.78 L526.42,825.80 L527.53,827.83 L528.63,829.86 L529.74,831.89 L530.85,833.93 L531.96,835.97 L533.06,838.01 L534.17,840.06 L535.28,842.10 L536.39,844.15 L537.49,846.20 L538.60,848.25 L539.71,850.30 L540.81,852.35 L541.92,854.40 L543.03,856.44 L544.14,858.49 L545.24,860.53 L546.35,862.57 L547.46,864.61 L548.57,866.64 L549.67,868.67 L550.78,870.70 L551.89,872.72 L552.99,874.74 L554.10,876.75 L555.21,878.76 L556.32,880.76 L557.42,882.75 L558.53,884.74 L559.64,886.72 L560.75,888.69 L561.85,890.66 L562.96,892.61 L564.07,894.56 L565.17,896.50 L566.28,898.43 L567.39,900.35 L568.50,902.26 L569.60,904.15 L570.71,906.04 L571.82,907.92 L572.92,909.78 L574.03,911.63 L575.14,913.47 L576.25,915.30 L577.35,917.12 L578.46,918.92 L579.57,920.70 L580.68,922.48 L581.78,924.24 L582.89,925.98 L584.00,927.71 L585.10,929.42 L586.21,931.12 L587.32,932.80 L588.43,934.47 L589.53,936.12 L590.64,937.75 L591.75,939.37 L592.86,940.97 L593.96,942.55 L595.07,944.11 L596.18,945.65 L597.28,947.18 L598.39,948.69 L599.50,950.18 L600.61,951.65 L601.71,953.09 L602.82,954.52 L603.93,955.93 L605.04,957.32 L606.14,958.69 L607.25,960.04 L608.36,961.37 L609.46,962.68 L610.57,963.97 L611.68,965.23 L612.79,966.47 L613.89,967.70 L615.00,968.90 L616.11,970.07 L617.21,971.23 L618.32,972.36 L619.43,973.47 L620.54,974.56 L621.64,975.63 L622.75,976.67 L623.86,977.69 L624.97,978.69 L626.07,979.66 L627.18,980.61 L628.29,981.54 L629.39,982.44 L630.50,983.32 L631.61,984.17 L632.72,985.01 L633.82,985.81 L634.93,986.60 L636.04,987.36 L637.15,988.10 L638.25,988.81 L639.36,989.50 L640.47,990.16 L641.57,990.80 L642.68,991.42 L643.79,992.01 L644.90,992.58 L646.00,993.13 L647.11,993.65 L648.22,994.14 L649.33,994.62 L650.43,995.06 L651.54,995.49 L652.65,995.89 L653.75,996.27 L654.86,996.62 L655.97,996.95 L657.08,997.25 L658.18,997.54 L659.29,997.80 L660.40,998.03 L661.50,998.24 L662.61,998.43 L663.72,998.60 L664.83,998.74 L665.93,998.86 L667.04,998.96 L668.15,999.03 L669.26,999.08 L670.36,999.11 L671.47,999.12 L672.58,999.11 L673.68,999.07 L674.79,999.01 L675.90,998.93 L677.01,998.83 L678.11,998.71 L679.22,998.56 L680.33,998.40 L681.44,998.22 L682.54,998.01 L683.65,997.78 L684.76,997.54 L685.86,997.27 L686.97,996.98 L688.08,996.68 L689.19,996.35 L690.29,996.01 L691.40,995.65 L692.51,995.27 L693.62,994.87 L694.72,994.45 L695.83,994.01 L696.94,993.56 L698.04,993.09 L699.15,992.60 L700.26,992.09 L701.37,991.57 L702.47,991.03 L703.58,990.48 L704.69,989.91 L705.79,989.32 L706.90,988.72 L708.01,988.10 L709.12,987.47 L710.22,986.82 L711.33,986.16 L712.44,985.49 L713.55,984.80 L714.65,984.10 L715.76,983.38 L716.87,982.65 L717.97,981.91 L719.08,981.16 L720.19,980.39 L721.30,979.62 L722.40,978.83 L723.51,978.03 L724.62,977.22 L725.73,976.40 L726.83,975.56 L727.94,974.72 L729.05,973.87 L730.15,973.01 L731.26,972.14 L732.37,971.26 L733.48,970.37 L734.58,969.47 L735.69,968.57 L736.80,967.66 L737.90,966.74 L739.01,965.81 L740.12,964.88 L741.23,963.94 L742.33,962.99 L743.44,962.04 L744.55,961.08 L745.66,960.12 L746.76,959.15 L747.87,958.17 L748.98,957.19 L750.08,956.21 L751.19,955.22 L752.30,954.23 L753.41,953.24 L754.51,952.24 L755.62,951.24 L756.73,950.24 L757.84,949.23 L758.94,948.22 L760.05,947.21 L761.16,946.20 L762.26,945.19 L763.37,944.18 L764.48,943.16 L765.59,942.15 L766.69,941.13 L767.80,940.11 L768.91,939.10 L770.02,938.08 L771.12,937.07 L772.23,936.05 L773.34,935.04 L774.44,934.03 L775.55,933.02 L776.66,932.01 L777.77,931.00 L778.87,929.99 L779.98,928.99 L781.09,927.99 L782.20,926.99 L783.30,926.00 L784.41,925.01 L785.52,924.02 L786.62,923.03 L787.73,922.05 L788.84,921.08 L789.95,920.10 L791.05,919.13 L792.16,918.17 L793.27,917.21 L794.37,916.25 L795.48,915.30 L796.59,914.36 L797.70,913.42 L798.80,912.48 L799.91,911.55 L801.02,910.63 L802.13,909.71 L803.23,908.80 L804.34,907.89 L805.45,906.99 L806.55,906.10 L807.66,905.21 L808.77,904.33 L809.88,903.45 L810.98,902.58 L812.09,901.72 L813.20,900.87 L814.31,900.02 L815.41,899.18 L816.52,898.35 L817.63,897.52 L818.73,896.70 L819.84,895.89 L820.95,895.09 L822.06,894.29 L823.16,893.51 L824.27,892.73 L825.38,891.95 L826.49,891.19 L827.59,890.43 L828.70,889.68 L829.81,888.94 L830.91,888.21 L832.02,887.48 L833.13,886.76 L834.24,886.05 L835.34,885.35 L836.45,884.66 L837.56,883.97 L838.66,883.30 L839.77,882.63 L840.88,881.97 L841.99,881.32 L843.09,880.67 L844.20,880.04 L845.31,879.41 L846.42,878.79 L847.52,878.18 L848.63,877.58 L849.74,876.98 L850.84,876.39 L851.95,875.82 L853.06,875.25 L854.17,874.68 L855.27,874.13 L856.38,873.58 L857.49,873.04 L858.60,872.51 L859.70,871.99 L860.81,871.48 L861.92,870.97 L863.02,870.47 L864.13,869.98 L865.24,869.50 L866.35,869.03 L867.45,868.56 L868.56,868.10 L869.67,867.65 L870.78,867.20 L871.88,866.77 L872.99,866.34 L874.10,865.92 L875.20,865.50 L876.31,865.09 L877.42,864.69 L878.53,864.30 L879.63,863.91 L880.74,863.54 L881.85,863.16 L882.95,862.80 L884.06,862.44 L885.17,862.09 L886.28,861.74 L887.38,861.41 L888.49,861.07 L889.60,860.75 L890.71,860.43 L891.81,860.12 L892.92,859.81 L894.03,859.51 L895.13,859.22 L896.24,858.93 L897.35,858.65 L898.46,858.37 L899.56,858.10 L900.67,857.84 L901.78,857.58 L902.89,857.32 L903.99,857.08 L905.10,856.83 L906.21,856.60 L907.31,856.36 L908.42,856.14 L909.53,855.92 L910.64,855.70 L911.74,855.49 L912.85,855.28 L913.96,855.08 L915.07,854.88 L916.17,854.69 L917.28,854.50 L918.39,854.32 L919.49,854.14 L920.60,853.97 L921.71,853.80 L922.82,853.63 L923.92,853.47 L925.03,853.31 L926.14,853.15 L927.24,853.00 L928.35,852.86 L929.46,852.72 L930.57,852.58 L931.67,852.44 L932.78,852.31 L933.89,852.18 L935.00,852.06 L936.10,851.94 L937.21,851.82 L938.32,851.70 L939.42,851.59 L940.53,851.48 L941.64,851.38 L942.75,851.27 L943.85,851.17 L944.96,851.08 L946.07,850.98 L947.18,850.89 L948.28,850.80 L949.39,850.71 L950.50,850.63 L951.60,850.55 L952.71,850.47 L953.82,850.39 L954.93,850.32 L956.03,850.25 L957.14,850.18 L958.25,850.11 L959.36,850.04 L960.46,849.98 L961.57,849.92 L962.68,849.86 L963.78,849.80 L964.89,849.74 L966.00,849.69 L967.11,849.63 L968.21,849.58 L969.32,849.53 L970.43,849.49 L971.53,849.44 L972.64,849.39 L973.75,849.35 L974.86,849.31 L975.96,849.27 L977.07,849.23 L978.18,849.19 L979.29,849.16 L980.39,849.12 L981.50,849.09" fill="none" stroke="#00f" stroke-width="3.5" stroke-dasharray="2.2 8" stroke-linecap="square" stroke-linejoin="round"/>
<text transform="translate(16,823.5) rotate(-90)" text-anchor="middle">Intensity</text>
<text x="539.00" y="1116.0" text-anchor="middle"><tspan font-style="italic">φ</tspan><tspan dx="-1.2"> (in units of 1/</tspan><tspan font-style="italic">γ</tspan><tspan dx="0.5">)</tspan></text>
</svg>
</body></html>
